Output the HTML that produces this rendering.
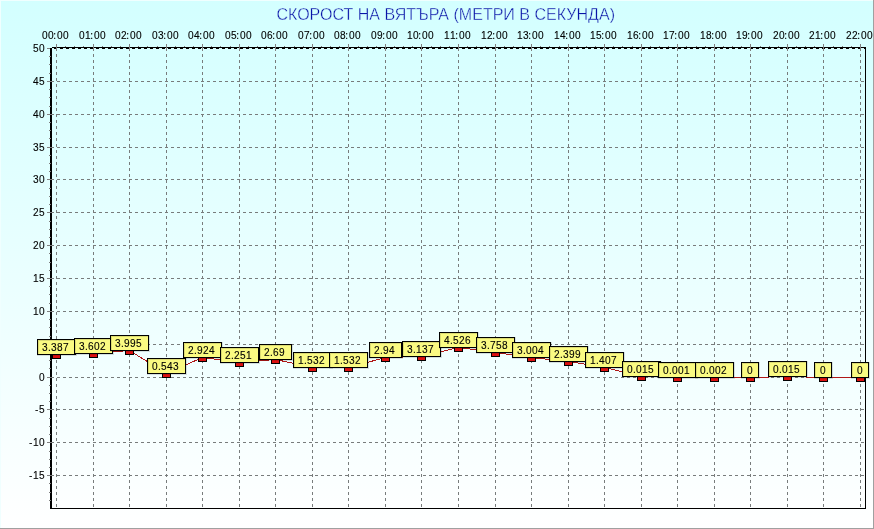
<!DOCTYPE html>
<html><head><meta charset="utf-8"><style>
html,body{margin:0;padding:0;width:874px;height:529px;overflow:hidden;background:#fff}
svg{display:block;will-change:transform}
</style></head><body>
<svg width="874" height="529" viewBox="0 0 874 529" shape-rendering="crispEdges">
<defs><linearGradient id="bg" x1="0" y1="0" x2="0" y2="1"><stop offset="0" stop-color="#d3ffff"/><stop offset="1" stop-color="#ffffff"/></linearGradient></defs>
<rect x="0" y="0" width="874" height="529" fill="url(#bg)"/>
<rect x="0" y="0" width="874" height="1" fill="#f0ffff"/>
<rect x="0" y="0" width="1" height="529" fill="#f0ffff"/>
<rect x="873" y="0" width="1" height="529" fill="#a0a0a0"/>
<rect x="0" y="528" width="874" height="1" fill="#a0a0a0"/>
<text x="276.4" y="20" font-family="Liberation Sans" font-size="16" fill="#0814a8" stroke="#d6ffff" stroke-width="0.35" shape-rendering="auto" textLength="338.6" lengthAdjust="spacingAndGlyphs">СКОРОСТ НА ВЯТЪРА (МЕТРИ В СЕКУНДА)</text>
<path d="M51 81h3v1h-3zM57 81h3v1h-3zM63 81h3v1h-3zM69 81h3v1h-3zM75 81h3v1h-3zM81 81h3v1h-3zM87 81h3v1h-3zM93 81h3v1h-3zM99 81h3v1h-3zM105 81h3v1h-3zM111 81h3v1h-3zM117 81h3v1h-3zM123 81h3v1h-3zM129 81h3v1h-3zM135 81h3v1h-3zM141 81h3v1h-3zM147 81h3v1h-3zM153 81h3v1h-3zM159 81h3v1h-3zM165 81h3v1h-3zM171 81h3v1h-3zM177 81h3v1h-3zM183 81h3v1h-3zM189 81h3v1h-3zM195 81h3v1h-3zM201 81h3v1h-3zM207 81h3v1h-3zM213 81h3v1h-3zM219 81h3v1h-3zM225 81h3v1h-3zM231 81h3v1h-3zM237 81h3v1h-3zM243 81h3v1h-3zM249 81h3v1h-3zM255 81h3v1h-3zM261 81h3v1h-3zM267 81h3v1h-3zM273 81h3v1h-3zM279 81h3v1h-3zM285 81h3v1h-3zM291 81h3v1h-3zM297 81h3v1h-3zM303 81h3v1h-3zM309 81h3v1h-3zM315 81h3v1h-3zM321 81h3v1h-3zM327 81h3v1h-3zM333 81h3v1h-3zM339 81h3v1h-3zM345 81h3v1h-3zM351 81h3v1h-3zM357 81h3v1h-3zM363 81h3v1h-3zM369 81h3v1h-3zM375 81h3v1h-3zM381 81h3v1h-3zM387 81h3v1h-3zM393 81h3v1h-3zM399 81h3v1h-3zM405 81h3v1h-3zM411 81h3v1h-3zM417 81h3v1h-3zM423 81h3v1h-3zM429 81h3v1h-3zM435 81h3v1h-3zM441 81h3v1h-3zM447 81h3v1h-3zM453 81h3v1h-3zM459 81h3v1h-3zM465 81h3v1h-3zM471 81h3v1h-3zM477 81h3v1h-3zM483 81h3v1h-3zM489 81h3v1h-3zM495 81h3v1h-3zM501 81h3v1h-3zM507 81h3v1h-3zM513 81h3v1h-3zM519 81h3v1h-3zM525 81h3v1h-3zM531 81h3v1h-3zM537 81h3v1h-3zM543 81h3v1h-3zM549 81h3v1h-3zM555 81h3v1h-3zM561 81h3v1h-3zM567 81h3v1h-3zM573 81h3v1h-3zM579 81h3v1h-3zM585 81h3v1h-3zM591 81h3v1h-3zM597 81h3v1h-3zM603 81h3v1h-3zM609 81h3v1h-3zM615 81h3v1h-3zM621 81h3v1h-3zM627 81h3v1h-3zM633 81h3v1h-3zM639 81h3v1h-3zM645 81h3v1h-3zM651 81h3v1h-3zM657 81h3v1h-3zM663 81h3v1h-3zM669 81h3v1h-3zM675 81h3v1h-3zM681 81h3v1h-3zM687 81h3v1h-3zM693 81h3v1h-3zM699 81h3v1h-3zM705 81h3v1h-3zM711 81h3v1h-3zM717 81h3v1h-3zM723 81h3v1h-3zM729 81h3v1h-3zM735 81h3v1h-3zM741 81h3v1h-3zM747 81h3v1h-3zM753 81h3v1h-3zM759 81h3v1h-3zM765 81h3v1h-3zM771 81h3v1h-3zM777 81h3v1h-3zM783 81h3v1h-3zM789 81h3v1h-3zM795 81h3v1h-3zM801 81h3v1h-3zM807 81h3v1h-3zM813 81h3v1h-3zM819 81h3v1h-3zM825 81h3v1h-3zM831 81h3v1h-3zM837 81h3v1h-3zM843 81h3v1h-3zM849 81h3v1h-3zM855 81h3v1h-3zM861 81h3v1h-3zM51 114h3v1h-3zM57 114h3v1h-3zM63 114h3v1h-3zM69 114h3v1h-3zM75 114h3v1h-3zM81 114h3v1h-3zM87 114h3v1h-3zM93 114h3v1h-3zM99 114h3v1h-3zM105 114h3v1h-3zM111 114h3v1h-3zM117 114h3v1h-3zM123 114h3v1h-3zM129 114h3v1h-3zM135 114h3v1h-3zM141 114h3v1h-3zM147 114h3v1h-3zM153 114h3v1h-3zM159 114h3v1h-3zM165 114h3v1h-3zM171 114h3v1h-3zM177 114h3v1h-3zM183 114h3v1h-3zM189 114h3v1h-3zM195 114h3v1h-3zM201 114h3v1h-3zM207 114h3v1h-3zM213 114h3v1h-3zM219 114h3v1h-3zM225 114h3v1h-3zM231 114h3v1h-3zM237 114h3v1h-3zM243 114h3v1h-3zM249 114h3v1h-3zM255 114h3v1h-3zM261 114h3v1h-3zM267 114h3v1h-3zM273 114h3v1h-3zM279 114h3v1h-3zM285 114h3v1h-3zM291 114h3v1h-3zM297 114h3v1h-3zM303 114h3v1h-3zM309 114h3v1h-3zM315 114h3v1h-3zM321 114h3v1h-3zM327 114h3v1h-3zM333 114h3v1h-3zM339 114h3v1h-3zM345 114h3v1h-3zM351 114h3v1h-3zM357 114h3v1h-3zM363 114h3v1h-3zM369 114h3v1h-3zM375 114h3v1h-3zM381 114h3v1h-3zM387 114h3v1h-3zM393 114h3v1h-3zM399 114h3v1h-3zM405 114h3v1h-3zM411 114h3v1h-3zM417 114h3v1h-3zM423 114h3v1h-3zM429 114h3v1h-3zM435 114h3v1h-3zM441 114h3v1h-3zM447 114h3v1h-3zM453 114h3v1h-3zM459 114h3v1h-3zM465 114h3v1h-3zM471 114h3v1h-3zM477 114h3v1h-3zM483 114h3v1h-3zM489 114h3v1h-3zM495 114h3v1h-3zM501 114h3v1h-3zM507 114h3v1h-3zM513 114h3v1h-3zM519 114h3v1h-3zM525 114h3v1h-3zM531 114h3v1h-3zM537 114h3v1h-3zM543 114h3v1h-3zM549 114h3v1h-3zM555 114h3v1h-3zM561 114h3v1h-3zM567 114h3v1h-3zM573 114h3v1h-3zM579 114h3v1h-3zM585 114h3v1h-3zM591 114h3v1h-3zM597 114h3v1h-3zM603 114h3v1h-3zM609 114h3v1h-3zM615 114h3v1h-3zM621 114h3v1h-3zM627 114h3v1h-3zM633 114h3v1h-3zM639 114h3v1h-3zM645 114h3v1h-3zM651 114h3v1h-3zM657 114h3v1h-3zM663 114h3v1h-3zM669 114h3v1h-3zM675 114h3v1h-3zM681 114h3v1h-3zM687 114h3v1h-3zM693 114h3v1h-3zM699 114h3v1h-3zM705 114h3v1h-3zM711 114h3v1h-3zM717 114h3v1h-3zM723 114h3v1h-3zM729 114h3v1h-3zM735 114h3v1h-3zM741 114h3v1h-3zM747 114h3v1h-3zM753 114h3v1h-3zM759 114h3v1h-3zM765 114h3v1h-3zM771 114h3v1h-3zM777 114h3v1h-3zM783 114h3v1h-3zM789 114h3v1h-3zM795 114h3v1h-3zM801 114h3v1h-3zM807 114h3v1h-3zM813 114h3v1h-3zM819 114h3v1h-3zM825 114h3v1h-3zM831 114h3v1h-3zM837 114h3v1h-3zM843 114h3v1h-3zM849 114h3v1h-3zM855 114h3v1h-3zM861 114h3v1h-3zM51 147h3v1h-3zM57 147h3v1h-3zM63 147h3v1h-3zM69 147h3v1h-3zM75 147h3v1h-3zM81 147h3v1h-3zM87 147h3v1h-3zM93 147h3v1h-3zM99 147h3v1h-3zM105 147h3v1h-3zM111 147h3v1h-3zM117 147h3v1h-3zM123 147h3v1h-3zM129 147h3v1h-3zM135 147h3v1h-3zM141 147h3v1h-3zM147 147h3v1h-3zM153 147h3v1h-3zM159 147h3v1h-3zM165 147h3v1h-3zM171 147h3v1h-3zM177 147h3v1h-3zM183 147h3v1h-3zM189 147h3v1h-3zM195 147h3v1h-3zM201 147h3v1h-3zM207 147h3v1h-3zM213 147h3v1h-3zM219 147h3v1h-3zM225 147h3v1h-3zM231 147h3v1h-3zM237 147h3v1h-3zM243 147h3v1h-3zM249 147h3v1h-3zM255 147h3v1h-3zM261 147h3v1h-3zM267 147h3v1h-3zM273 147h3v1h-3zM279 147h3v1h-3zM285 147h3v1h-3zM291 147h3v1h-3zM297 147h3v1h-3zM303 147h3v1h-3zM309 147h3v1h-3zM315 147h3v1h-3zM321 147h3v1h-3zM327 147h3v1h-3zM333 147h3v1h-3zM339 147h3v1h-3zM345 147h3v1h-3zM351 147h3v1h-3zM357 147h3v1h-3zM363 147h3v1h-3zM369 147h3v1h-3zM375 147h3v1h-3zM381 147h3v1h-3zM387 147h3v1h-3zM393 147h3v1h-3zM399 147h3v1h-3zM405 147h3v1h-3zM411 147h3v1h-3zM417 147h3v1h-3zM423 147h3v1h-3zM429 147h3v1h-3zM435 147h3v1h-3zM441 147h3v1h-3zM447 147h3v1h-3zM453 147h3v1h-3zM459 147h3v1h-3zM465 147h3v1h-3zM471 147h3v1h-3zM477 147h3v1h-3zM483 147h3v1h-3zM489 147h3v1h-3zM495 147h3v1h-3zM501 147h3v1h-3zM507 147h3v1h-3zM513 147h3v1h-3zM519 147h3v1h-3zM525 147h3v1h-3zM531 147h3v1h-3zM537 147h3v1h-3zM543 147h3v1h-3zM549 147h3v1h-3zM555 147h3v1h-3zM561 147h3v1h-3zM567 147h3v1h-3zM573 147h3v1h-3zM579 147h3v1h-3zM585 147h3v1h-3zM591 147h3v1h-3zM597 147h3v1h-3zM603 147h3v1h-3zM609 147h3v1h-3zM615 147h3v1h-3zM621 147h3v1h-3zM627 147h3v1h-3zM633 147h3v1h-3zM639 147h3v1h-3zM645 147h3v1h-3zM651 147h3v1h-3zM657 147h3v1h-3zM663 147h3v1h-3zM669 147h3v1h-3zM675 147h3v1h-3zM681 147h3v1h-3zM687 147h3v1h-3zM693 147h3v1h-3zM699 147h3v1h-3zM705 147h3v1h-3zM711 147h3v1h-3zM717 147h3v1h-3zM723 147h3v1h-3zM729 147h3v1h-3zM735 147h3v1h-3zM741 147h3v1h-3zM747 147h3v1h-3zM753 147h3v1h-3zM759 147h3v1h-3zM765 147h3v1h-3zM771 147h3v1h-3zM777 147h3v1h-3zM783 147h3v1h-3zM789 147h3v1h-3zM795 147h3v1h-3zM801 147h3v1h-3zM807 147h3v1h-3zM813 147h3v1h-3zM819 147h3v1h-3zM825 147h3v1h-3zM831 147h3v1h-3zM837 147h3v1h-3zM843 147h3v1h-3zM849 147h3v1h-3zM855 147h3v1h-3zM861 147h3v1h-3zM51 179h3v1h-3zM57 179h3v1h-3zM63 179h3v1h-3zM69 179h3v1h-3zM75 179h3v1h-3zM81 179h3v1h-3zM87 179h3v1h-3zM93 179h3v1h-3zM99 179h3v1h-3zM105 179h3v1h-3zM111 179h3v1h-3zM117 179h3v1h-3zM123 179h3v1h-3zM129 179h3v1h-3zM135 179h3v1h-3zM141 179h3v1h-3zM147 179h3v1h-3zM153 179h3v1h-3zM159 179h3v1h-3zM165 179h3v1h-3zM171 179h3v1h-3zM177 179h3v1h-3zM183 179h3v1h-3zM189 179h3v1h-3zM195 179h3v1h-3zM201 179h3v1h-3zM207 179h3v1h-3zM213 179h3v1h-3zM219 179h3v1h-3zM225 179h3v1h-3zM231 179h3v1h-3zM237 179h3v1h-3zM243 179h3v1h-3zM249 179h3v1h-3zM255 179h3v1h-3zM261 179h3v1h-3zM267 179h3v1h-3zM273 179h3v1h-3zM279 179h3v1h-3zM285 179h3v1h-3zM291 179h3v1h-3zM297 179h3v1h-3zM303 179h3v1h-3zM309 179h3v1h-3zM315 179h3v1h-3zM321 179h3v1h-3zM327 179h3v1h-3zM333 179h3v1h-3zM339 179h3v1h-3zM345 179h3v1h-3zM351 179h3v1h-3zM357 179h3v1h-3zM363 179h3v1h-3zM369 179h3v1h-3zM375 179h3v1h-3zM381 179h3v1h-3zM387 179h3v1h-3zM393 179h3v1h-3zM399 179h3v1h-3zM405 179h3v1h-3zM411 179h3v1h-3zM417 179h3v1h-3zM423 179h3v1h-3zM429 179h3v1h-3zM435 179h3v1h-3zM441 179h3v1h-3zM447 179h3v1h-3zM453 179h3v1h-3zM459 179h3v1h-3zM465 179h3v1h-3zM471 179h3v1h-3zM477 179h3v1h-3zM483 179h3v1h-3zM489 179h3v1h-3zM495 179h3v1h-3zM501 179h3v1h-3zM507 179h3v1h-3zM513 179h3v1h-3zM519 179h3v1h-3zM525 179h3v1h-3zM531 179h3v1h-3zM537 179h3v1h-3zM543 179h3v1h-3zM549 179h3v1h-3zM555 179h3v1h-3zM561 179h3v1h-3zM567 179h3v1h-3zM573 179h3v1h-3zM579 179h3v1h-3zM585 179h3v1h-3zM591 179h3v1h-3zM597 179h3v1h-3zM603 179h3v1h-3zM609 179h3v1h-3zM615 179h3v1h-3zM621 179h3v1h-3zM627 179h3v1h-3zM633 179h3v1h-3zM639 179h3v1h-3zM645 179h3v1h-3zM651 179h3v1h-3zM657 179h3v1h-3zM663 179h3v1h-3zM669 179h3v1h-3zM675 179h3v1h-3zM681 179h3v1h-3zM687 179h3v1h-3zM693 179h3v1h-3zM699 179h3v1h-3zM705 179h3v1h-3zM711 179h3v1h-3zM717 179h3v1h-3zM723 179h3v1h-3zM729 179h3v1h-3zM735 179h3v1h-3zM741 179h3v1h-3zM747 179h3v1h-3zM753 179h3v1h-3zM759 179h3v1h-3zM765 179h3v1h-3zM771 179h3v1h-3zM777 179h3v1h-3zM783 179h3v1h-3zM789 179h3v1h-3zM795 179h3v1h-3zM801 179h3v1h-3zM807 179h3v1h-3zM813 179h3v1h-3zM819 179h3v1h-3zM825 179h3v1h-3zM831 179h3v1h-3zM837 179h3v1h-3zM843 179h3v1h-3zM849 179h3v1h-3zM855 179h3v1h-3zM861 179h3v1h-3zM51 212h3v1h-3zM57 212h3v1h-3zM63 212h3v1h-3zM69 212h3v1h-3zM75 212h3v1h-3zM81 212h3v1h-3zM87 212h3v1h-3zM93 212h3v1h-3zM99 212h3v1h-3zM105 212h3v1h-3zM111 212h3v1h-3zM117 212h3v1h-3zM123 212h3v1h-3zM129 212h3v1h-3zM135 212h3v1h-3zM141 212h3v1h-3zM147 212h3v1h-3zM153 212h3v1h-3zM159 212h3v1h-3zM165 212h3v1h-3zM171 212h3v1h-3zM177 212h3v1h-3zM183 212h3v1h-3zM189 212h3v1h-3zM195 212h3v1h-3zM201 212h3v1h-3zM207 212h3v1h-3zM213 212h3v1h-3zM219 212h3v1h-3zM225 212h3v1h-3zM231 212h3v1h-3zM237 212h3v1h-3zM243 212h3v1h-3zM249 212h3v1h-3zM255 212h3v1h-3zM261 212h3v1h-3zM267 212h3v1h-3zM273 212h3v1h-3zM279 212h3v1h-3zM285 212h3v1h-3zM291 212h3v1h-3zM297 212h3v1h-3zM303 212h3v1h-3zM309 212h3v1h-3zM315 212h3v1h-3zM321 212h3v1h-3zM327 212h3v1h-3zM333 212h3v1h-3zM339 212h3v1h-3zM345 212h3v1h-3zM351 212h3v1h-3zM357 212h3v1h-3zM363 212h3v1h-3zM369 212h3v1h-3zM375 212h3v1h-3zM381 212h3v1h-3zM387 212h3v1h-3zM393 212h3v1h-3zM399 212h3v1h-3zM405 212h3v1h-3zM411 212h3v1h-3zM417 212h3v1h-3zM423 212h3v1h-3zM429 212h3v1h-3zM435 212h3v1h-3zM441 212h3v1h-3zM447 212h3v1h-3zM453 212h3v1h-3zM459 212h3v1h-3zM465 212h3v1h-3zM471 212h3v1h-3zM477 212h3v1h-3zM483 212h3v1h-3zM489 212h3v1h-3zM495 212h3v1h-3zM501 212h3v1h-3zM507 212h3v1h-3zM513 212h3v1h-3zM519 212h3v1h-3zM525 212h3v1h-3zM531 212h3v1h-3zM537 212h3v1h-3zM543 212h3v1h-3zM549 212h3v1h-3zM555 212h3v1h-3zM561 212h3v1h-3zM567 212h3v1h-3zM573 212h3v1h-3zM579 212h3v1h-3zM585 212h3v1h-3zM591 212h3v1h-3zM597 212h3v1h-3zM603 212h3v1h-3zM609 212h3v1h-3zM615 212h3v1h-3zM621 212h3v1h-3zM627 212h3v1h-3zM633 212h3v1h-3zM639 212h3v1h-3zM645 212h3v1h-3zM651 212h3v1h-3zM657 212h3v1h-3zM663 212h3v1h-3zM669 212h3v1h-3zM675 212h3v1h-3zM681 212h3v1h-3zM687 212h3v1h-3zM693 212h3v1h-3zM699 212h3v1h-3zM705 212h3v1h-3zM711 212h3v1h-3zM717 212h3v1h-3zM723 212h3v1h-3zM729 212h3v1h-3zM735 212h3v1h-3zM741 212h3v1h-3zM747 212h3v1h-3zM753 212h3v1h-3zM759 212h3v1h-3zM765 212h3v1h-3zM771 212h3v1h-3zM777 212h3v1h-3zM783 212h3v1h-3zM789 212h3v1h-3zM795 212h3v1h-3zM801 212h3v1h-3zM807 212h3v1h-3zM813 212h3v1h-3zM819 212h3v1h-3zM825 212h3v1h-3zM831 212h3v1h-3zM837 212h3v1h-3zM843 212h3v1h-3zM849 212h3v1h-3zM855 212h3v1h-3zM861 212h3v1h-3zM51 245h3v1h-3zM57 245h3v1h-3zM63 245h3v1h-3zM69 245h3v1h-3zM75 245h3v1h-3zM81 245h3v1h-3zM87 245h3v1h-3zM93 245h3v1h-3zM99 245h3v1h-3zM105 245h3v1h-3zM111 245h3v1h-3zM117 245h3v1h-3zM123 245h3v1h-3zM129 245h3v1h-3zM135 245h3v1h-3zM141 245h3v1h-3zM147 245h3v1h-3zM153 245h3v1h-3zM159 245h3v1h-3zM165 245h3v1h-3zM171 245h3v1h-3zM177 245h3v1h-3zM183 245h3v1h-3zM189 245h3v1h-3zM195 245h3v1h-3zM201 245h3v1h-3zM207 245h3v1h-3zM213 245h3v1h-3zM219 245h3v1h-3zM225 245h3v1h-3zM231 245h3v1h-3zM237 245h3v1h-3zM243 245h3v1h-3zM249 245h3v1h-3zM255 245h3v1h-3zM261 245h3v1h-3zM267 245h3v1h-3zM273 245h3v1h-3zM279 245h3v1h-3zM285 245h3v1h-3zM291 245h3v1h-3zM297 245h3v1h-3zM303 245h3v1h-3zM309 245h3v1h-3zM315 245h3v1h-3zM321 245h3v1h-3zM327 245h3v1h-3zM333 245h3v1h-3zM339 245h3v1h-3zM345 245h3v1h-3zM351 245h3v1h-3zM357 245h3v1h-3zM363 245h3v1h-3zM369 245h3v1h-3zM375 245h3v1h-3zM381 245h3v1h-3zM387 245h3v1h-3zM393 245h3v1h-3zM399 245h3v1h-3zM405 245h3v1h-3zM411 245h3v1h-3zM417 245h3v1h-3zM423 245h3v1h-3zM429 245h3v1h-3zM435 245h3v1h-3zM441 245h3v1h-3zM447 245h3v1h-3zM453 245h3v1h-3zM459 245h3v1h-3zM465 245h3v1h-3zM471 245h3v1h-3zM477 245h3v1h-3zM483 245h3v1h-3zM489 245h3v1h-3zM495 245h3v1h-3zM501 245h3v1h-3zM507 245h3v1h-3zM513 245h3v1h-3zM519 245h3v1h-3zM525 245h3v1h-3zM531 245h3v1h-3zM537 245h3v1h-3zM543 245h3v1h-3zM549 245h3v1h-3zM555 245h3v1h-3zM561 245h3v1h-3zM567 245h3v1h-3zM573 245h3v1h-3zM579 245h3v1h-3zM585 245h3v1h-3zM591 245h3v1h-3zM597 245h3v1h-3zM603 245h3v1h-3zM609 245h3v1h-3zM615 245h3v1h-3zM621 245h3v1h-3zM627 245h3v1h-3zM633 245h3v1h-3zM639 245h3v1h-3zM645 245h3v1h-3zM651 245h3v1h-3zM657 245h3v1h-3zM663 245h3v1h-3zM669 245h3v1h-3zM675 245h3v1h-3zM681 245h3v1h-3zM687 245h3v1h-3zM693 245h3v1h-3zM699 245h3v1h-3zM705 245h3v1h-3zM711 245h3v1h-3zM717 245h3v1h-3zM723 245h3v1h-3zM729 245h3v1h-3zM735 245h3v1h-3zM741 245h3v1h-3zM747 245h3v1h-3zM753 245h3v1h-3zM759 245h3v1h-3zM765 245h3v1h-3zM771 245h3v1h-3zM777 245h3v1h-3zM783 245h3v1h-3zM789 245h3v1h-3zM795 245h3v1h-3zM801 245h3v1h-3zM807 245h3v1h-3zM813 245h3v1h-3zM819 245h3v1h-3zM825 245h3v1h-3zM831 245h3v1h-3zM837 245h3v1h-3zM843 245h3v1h-3zM849 245h3v1h-3zM855 245h3v1h-3zM861 245h3v1h-3zM51 278h3v1h-3zM57 278h3v1h-3zM63 278h3v1h-3zM69 278h3v1h-3zM75 278h3v1h-3zM81 278h3v1h-3zM87 278h3v1h-3zM93 278h3v1h-3zM99 278h3v1h-3zM105 278h3v1h-3zM111 278h3v1h-3zM117 278h3v1h-3zM123 278h3v1h-3zM129 278h3v1h-3zM135 278h3v1h-3zM141 278h3v1h-3zM147 278h3v1h-3zM153 278h3v1h-3zM159 278h3v1h-3zM165 278h3v1h-3zM171 278h3v1h-3zM177 278h3v1h-3zM183 278h3v1h-3zM189 278h3v1h-3zM195 278h3v1h-3zM201 278h3v1h-3zM207 278h3v1h-3zM213 278h3v1h-3zM219 278h3v1h-3zM225 278h3v1h-3zM231 278h3v1h-3zM237 278h3v1h-3zM243 278h3v1h-3zM249 278h3v1h-3zM255 278h3v1h-3zM261 278h3v1h-3zM267 278h3v1h-3zM273 278h3v1h-3zM279 278h3v1h-3zM285 278h3v1h-3zM291 278h3v1h-3zM297 278h3v1h-3zM303 278h3v1h-3zM309 278h3v1h-3zM315 278h3v1h-3zM321 278h3v1h-3zM327 278h3v1h-3zM333 278h3v1h-3zM339 278h3v1h-3zM345 278h3v1h-3zM351 278h3v1h-3zM357 278h3v1h-3zM363 278h3v1h-3zM369 278h3v1h-3zM375 278h3v1h-3zM381 278h3v1h-3zM387 278h3v1h-3zM393 278h3v1h-3zM399 278h3v1h-3zM405 278h3v1h-3zM411 278h3v1h-3zM417 278h3v1h-3zM423 278h3v1h-3zM429 278h3v1h-3zM435 278h3v1h-3zM441 278h3v1h-3zM447 278h3v1h-3zM453 278h3v1h-3zM459 278h3v1h-3zM465 278h3v1h-3zM471 278h3v1h-3zM477 278h3v1h-3zM483 278h3v1h-3zM489 278h3v1h-3zM495 278h3v1h-3zM501 278h3v1h-3zM507 278h3v1h-3zM513 278h3v1h-3zM519 278h3v1h-3zM525 278h3v1h-3zM531 278h3v1h-3zM537 278h3v1h-3zM543 278h3v1h-3zM549 278h3v1h-3zM555 278h3v1h-3zM561 278h3v1h-3zM567 278h3v1h-3zM573 278h3v1h-3zM579 278h3v1h-3zM585 278h3v1h-3zM591 278h3v1h-3zM597 278h3v1h-3zM603 278h3v1h-3zM609 278h3v1h-3zM615 278h3v1h-3zM621 278h3v1h-3zM627 278h3v1h-3zM633 278h3v1h-3zM639 278h3v1h-3zM645 278h3v1h-3zM651 278h3v1h-3zM657 278h3v1h-3zM663 278h3v1h-3zM669 278h3v1h-3zM675 278h3v1h-3zM681 278h3v1h-3zM687 278h3v1h-3zM693 278h3v1h-3zM699 278h3v1h-3zM705 278h3v1h-3zM711 278h3v1h-3zM717 278h3v1h-3zM723 278h3v1h-3zM729 278h3v1h-3zM735 278h3v1h-3zM741 278h3v1h-3zM747 278h3v1h-3zM753 278h3v1h-3zM759 278h3v1h-3zM765 278h3v1h-3zM771 278h3v1h-3zM777 278h3v1h-3zM783 278h3v1h-3zM789 278h3v1h-3zM795 278h3v1h-3zM801 278h3v1h-3zM807 278h3v1h-3zM813 278h3v1h-3zM819 278h3v1h-3zM825 278h3v1h-3zM831 278h3v1h-3zM837 278h3v1h-3zM843 278h3v1h-3zM849 278h3v1h-3zM855 278h3v1h-3zM861 278h3v1h-3zM51 311h3v1h-3zM57 311h3v1h-3zM63 311h3v1h-3zM69 311h3v1h-3zM75 311h3v1h-3zM81 311h3v1h-3zM87 311h3v1h-3zM93 311h3v1h-3zM99 311h3v1h-3zM105 311h3v1h-3zM111 311h3v1h-3zM117 311h3v1h-3zM123 311h3v1h-3zM129 311h3v1h-3zM135 311h3v1h-3zM141 311h3v1h-3zM147 311h3v1h-3zM153 311h3v1h-3zM159 311h3v1h-3zM165 311h3v1h-3zM171 311h3v1h-3zM177 311h3v1h-3zM183 311h3v1h-3zM189 311h3v1h-3zM195 311h3v1h-3zM201 311h3v1h-3zM207 311h3v1h-3zM213 311h3v1h-3zM219 311h3v1h-3zM225 311h3v1h-3zM231 311h3v1h-3zM237 311h3v1h-3zM243 311h3v1h-3zM249 311h3v1h-3zM255 311h3v1h-3zM261 311h3v1h-3zM267 311h3v1h-3zM273 311h3v1h-3zM279 311h3v1h-3zM285 311h3v1h-3zM291 311h3v1h-3zM297 311h3v1h-3zM303 311h3v1h-3zM309 311h3v1h-3zM315 311h3v1h-3zM321 311h3v1h-3zM327 311h3v1h-3zM333 311h3v1h-3zM339 311h3v1h-3zM345 311h3v1h-3zM351 311h3v1h-3zM357 311h3v1h-3zM363 311h3v1h-3zM369 311h3v1h-3zM375 311h3v1h-3zM381 311h3v1h-3zM387 311h3v1h-3zM393 311h3v1h-3zM399 311h3v1h-3zM405 311h3v1h-3zM411 311h3v1h-3zM417 311h3v1h-3zM423 311h3v1h-3zM429 311h3v1h-3zM435 311h3v1h-3zM441 311h3v1h-3zM447 311h3v1h-3zM453 311h3v1h-3zM459 311h3v1h-3zM465 311h3v1h-3zM471 311h3v1h-3zM477 311h3v1h-3zM483 311h3v1h-3zM489 311h3v1h-3zM495 311h3v1h-3zM501 311h3v1h-3zM507 311h3v1h-3zM513 311h3v1h-3zM519 311h3v1h-3zM525 311h3v1h-3zM531 311h3v1h-3zM537 311h3v1h-3zM543 311h3v1h-3zM549 311h3v1h-3zM555 311h3v1h-3zM561 311h3v1h-3zM567 311h3v1h-3zM573 311h3v1h-3zM579 311h3v1h-3zM585 311h3v1h-3zM591 311h3v1h-3zM597 311h3v1h-3zM603 311h3v1h-3zM609 311h3v1h-3zM615 311h3v1h-3zM621 311h3v1h-3zM627 311h3v1h-3zM633 311h3v1h-3zM639 311h3v1h-3zM645 311h3v1h-3zM651 311h3v1h-3zM657 311h3v1h-3zM663 311h3v1h-3zM669 311h3v1h-3zM675 311h3v1h-3zM681 311h3v1h-3zM687 311h3v1h-3zM693 311h3v1h-3zM699 311h3v1h-3zM705 311h3v1h-3zM711 311h3v1h-3zM717 311h3v1h-3zM723 311h3v1h-3zM729 311h3v1h-3zM735 311h3v1h-3zM741 311h3v1h-3zM747 311h3v1h-3zM753 311h3v1h-3zM759 311h3v1h-3zM765 311h3v1h-3zM771 311h3v1h-3zM777 311h3v1h-3zM783 311h3v1h-3zM789 311h3v1h-3zM795 311h3v1h-3zM801 311h3v1h-3zM807 311h3v1h-3zM813 311h3v1h-3zM819 311h3v1h-3zM825 311h3v1h-3zM831 311h3v1h-3zM837 311h3v1h-3zM843 311h3v1h-3zM849 311h3v1h-3zM855 311h3v1h-3zM861 311h3v1h-3zM51 344h3v1h-3zM57 344h3v1h-3zM63 344h3v1h-3zM69 344h3v1h-3zM75 344h3v1h-3zM81 344h3v1h-3zM87 344h3v1h-3zM93 344h3v1h-3zM99 344h3v1h-3zM105 344h3v1h-3zM111 344h3v1h-3zM117 344h3v1h-3zM123 344h3v1h-3zM129 344h3v1h-3zM135 344h3v1h-3zM141 344h3v1h-3zM147 344h3v1h-3zM153 344h3v1h-3zM159 344h3v1h-3zM165 344h3v1h-3zM171 344h3v1h-3zM177 344h3v1h-3zM183 344h3v1h-3zM189 344h3v1h-3zM195 344h3v1h-3zM201 344h3v1h-3zM207 344h3v1h-3zM213 344h3v1h-3zM219 344h3v1h-3zM225 344h3v1h-3zM231 344h3v1h-3zM237 344h3v1h-3zM243 344h3v1h-3zM249 344h3v1h-3zM255 344h3v1h-3zM261 344h3v1h-3zM267 344h3v1h-3zM273 344h3v1h-3zM279 344h3v1h-3zM285 344h3v1h-3zM291 344h3v1h-3zM297 344h3v1h-3zM303 344h3v1h-3zM309 344h3v1h-3zM315 344h3v1h-3zM321 344h3v1h-3zM327 344h3v1h-3zM333 344h3v1h-3zM339 344h3v1h-3zM345 344h3v1h-3zM351 344h3v1h-3zM357 344h3v1h-3zM363 344h3v1h-3zM369 344h3v1h-3zM375 344h3v1h-3zM381 344h3v1h-3zM387 344h3v1h-3zM393 344h3v1h-3zM399 344h3v1h-3zM405 344h3v1h-3zM411 344h3v1h-3zM417 344h3v1h-3zM423 344h3v1h-3zM429 344h3v1h-3zM435 344h3v1h-3zM441 344h3v1h-3zM447 344h3v1h-3zM453 344h3v1h-3zM459 344h3v1h-3zM465 344h3v1h-3zM471 344h3v1h-3zM477 344h3v1h-3zM483 344h3v1h-3zM489 344h3v1h-3zM495 344h3v1h-3zM501 344h3v1h-3zM507 344h3v1h-3zM513 344h3v1h-3zM519 344h3v1h-3zM525 344h3v1h-3zM531 344h3v1h-3zM537 344h3v1h-3zM543 344h3v1h-3zM549 344h3v1h-3zM555 344h3v1h-3zM561 344h3v1h-3zM567 344h3v1h-3zM573 344h3v1h-3zM579 344h3v1h-3zM585 344h3v1h-3zM591 344h3v1h-3zM597 344h3v1h-3zM603 344h3v1h-3zM609 344h3v1h-3zM615 344h3v1h-3zM621 344h3v1h-3zM627 344h3v1h-3zM633 344h3v1h-3zM639 344h3v1h-3zM645 344h3v1h-3zM651 344h3v1h-3zM657 344h3v1h-3zM663 344h3v1h-3zM669 344h3v1h-3zM675 344h3v1h-3zM681 344h3v1h-3zM687 344h3v1h-3zM693 344h3v1h-3zM699 344h3v1h-3zM705 344h3v1h-3zM711 344h3v1h-3zM717 344h3v1h-3zM723 344h3v1h-3zM729 344h3v1h-3zM735 344h3v1h-3zM741 344h3v1h-3zM747 344h3v1h-3zM753 344h3v1h-3zM759 344h3v1h-3zM765 344h3v1h-3zM771 344h3v1h-3zM777 344h3v1h-3zM783 344h3v1h-3zM789 344h3v1h-3zM795 344h3v1h-3zM801 344h3v1h-3zM807 344h3v1h-3zM813 344h3v1h-3zM819 344h3v1h-3zM825 344h3v1h-3zM831 344h3v1h-3zM837 344h3v1h-3zM843 344h3v1h-3zM849 344h3v1h-3zM855 344h3v1h-3zM861 344h3v1h-3zM51 377h3v1h-3zM57 377h3v1h-3zM63 377h3v1h-3zM69 377h3v1h-3zM75 377h3v1h-3zM81 377h3v1h-3zM87 377h3v1h-3zM93 377h3v1h-3zM99 377h3v1h-3zM105 377h3v1h-3zM111 377h3v1h-3zM117 377h3v1h-3zM123 377h3v1h-3zM129 377h3v1h-3zM135 377h3v1h-3zM141 377h3v1h-3zM147 377h3v1h-3zM153 377h3v1h-3zM159 377h3v1h-3zM165 377h3v1h-3zM171 377h3v1h-3zM177 377h3v1h-3zM183 377h3v1h-3zM189 377h3v1h-3zM195 377h3v1h-3zM201 377h3v1h-3zM207 377h3v1h-3zM213 377h3v1h-3zM219 377h3v1h-3zM225 377h3v1h-3zM231 377h3v1h-3zM237 377h3v1h-3zM243 377h3v1h-3zM249 377h3v1h-3zM255 377h3v1h-3zM261 377h3v1h-3zM267 377h3v1h-3zM273 377h3v1h-3zM279 377h3v1h-3zM285 377h3v1h-3zM291 377h3v1h-3zM297 377h3v1h-3zM303 377h3v1h-3zM309 377h3v1h-3zM315 377h3v1h-3zM321 377h3v1h-3zM327 377h3v1h-3zM333 377h3v1h-3zM339 377h3v1h-3zM345 377h3v1h-3zM351 377h3v1h-3zM357 377h3v1h-3zM363 377h3v1h-3zM369 377h3v1h-3zM375 377h3v1h-3zM381 377h3v1h-3zM387 377h3v1h-3zM393 377h3v1h-3zM399 377h3v1h-3zM405 377h3v1h-3zM411 377h3v1h-3zM417 377h3v1h-3zM423 377h3v1h-3zM429 377h3v1h-3zM435 377h3v1h-3zM441 377h3v1h-3zM447 377h3v1h-3zM453 377h3v1h-3zM459 377h3v1h-3zM465 377h3v1h-3zM471 377h3v1h-3zM477 377h3v1h-3zM483 377h3v1h-3zM489 377h3v1h-3zM495 377h3v1h-3zM501 377h3v1h-3zM507 377h3v1h-3zM513 377h3v1h-3zM519 377h3v1h-3zM525 377h3v1h-3zM531 377h3v1h-3zM537 377h3v1h-3zM543 377h3v1h-3zM549 377h3v1h-3zM555 377h3v1h-3zM561 377h3v1h-3zM567 377h3v1h-3zM573 377h3v1h-3zM579 377h3v1h-3zM585 377h3v1h-3zM591 377h3v1h-3zM597 377h3v1h-3zM603 377h3v1h-3zM609 377h3v1h-3zM615 377h3v1h-3zM621 377h3v1h-3zM627 377h3v1h-3zM633 377h3v1h-3zM639 377h3v1h-3zM645 377h3v1h-3zM651 377h3v1h-3zM657 377h3v1h-3zM663 377h3v1h-3zM669 377h3v1h-3zM675 377h3v1h-3zM681 377h3v1h-3zM687 377h3v1h-3zM693 377h3v1h-3zM699 377h3v1h-3zM705 377h3v1h-3zM711 377h3v1h-3zM717 377h3v1h-3zM723 377h3v1h-3zM729 377h3v1h-3zM735 377h3v1h-3zM741 377h3v1h-3zM747 377h3v1h-3zM753 377h3v1h-3zM759 377h3v1h-3zM765 377h3v1h-3zM771 377h3v1h-3zM777 377h3v1h-3zM783 377h3v1h-3zM789 377h3v1h-3zM795 377h3v1h-3zM801 377h3v1h-3zM807 377h3v1h-3zM813 377h3v1h-3zM819 377h3v1h-3zM825 377h3v1h-3zM831 377h3v1h-3zM837 377h3v1h-3zM843 377h3v1h-3zM849 377h3v1h-3zM855 377h3v1h-3zM861 377h3v1h-3zM51 409h3v1h-3zM57 409h3v1h-3zM63 409h3v1h-3zM69 409h3v1h-3zM75 409h3v1h-3zM81 409h3v1h-3zM87 409h3v1h-3zM93 409h3v1h-3zM99 409h3v1h-3zM105 409h3v1h-3zM111 409h3v1h-3zM117 409h3v1h-3zM123 409h3v1h-3zM129 409h3v1h-3zM135 409h3v1h-3zM141 409h3v1h-3zM147 409h3v1h-3zM153 409h3v1h-3zM159 409h3v1h-3zM165 409h3v1h-3zM171 409h3v1h-3zM177 409h3v1h-3zM183 409h3v1h-3zM189 409h3v1h-3zM195 409h3v1h-3zM201 409h3v1h-3zM207 409h3v1h-3zM213 409h3v1h-3zM219 409h3v1h-3zM225 409h3v1h-3zM231 409h3v1h-3zM237 409h3v1h-3zM243 409h3v1h-3zM249 409h3v1h-3zM255 409h3v1h-3zM261 409h3v1h-3zM267 409h3v1h-3zM273 409h3v1h-3zM279 409h3v1h-3zM285 409h3v1h-3zM291 409h3v1h-3zM297 409h3v1h-3zM303 409h3v1h-3zM309 409h3v1h-3zM315 409h3v1h-3zM321 409h3v1h-3zM327 409h3v1h-3zM333 409h3v1h-3zM339 409h3v1h-3zM345 409h3v1h-3zM351 409h3v1h-3zM357 409h3v1h-3zM363 409h3v1h-3zM369 409h3v1h-3zM375 409h3v1h-3zM381 409h3v1h-3zM387 409h3v1h-3zM393 409h3v1h-3zM399 409h3v1h-3zM405 409h3v1h-3zM411 409h3v1h-3zM417 409h3v1h-3zM423 409h3v1h-3zM429 409h3v1h-3zM435 409h3v1h-3zM441 409h3v1h-3zM447 409h3v1h-3zM453 409h3v1h-3zM459 409h3v1h-3zM465 409h3v1h-3zM471 409h3v1h-3zM477 409h3v1h-3zM483 409h3v1h-3zM489 409h3v1h-3zM495 409h3v1h-3zM501 409h3v1h-3zM507 409h3v1h-3zM513 409h3v1h-3zM519 409h3v1h-3zM525 409h3v1h-3zM531 409h3v1h-3zM537 409h3v1h-3zM543 409h3v1h-3zM549 409h3v1h-3zM555 409h3v1h-3zM561 409h3v1h-3zM567 409h3v1h-3zM573 409h3v1h-3zM579 409h3v1h-3zM585 409h3v1h-3zM591 409h3v1h-3zM597 409h3v1h-3zM603 409h3v1h-3zM609 409h3v1h-3zM615 409h3v1h-3zM621 409h3v1h-3zM627 409h3v1h-3zM633 409h3v1h-3zM639 409h3v1h-3zM645 409h3v1h-3zM651 409h3v1h-3zM657 409h3v1h-3zM663 409h3v1h-3zM669 409h3v1h-3zM675 409h3v1h-3zM681 409h3v1h-3zM687 409h3v1h-3zM693 409h3v1h-3zM699 409h3v1h-3zM705 409h3v1h-3zM711 409h3v1h-3zM717 409h3v1h-3zM723 409h3v1h-3zM729 409h3v1h-3zM735 409h3v1h-3zM741 409h3v1h-3zM747 409h3v1h-3zM753 409h3v1h-3zM759 409h3v1h-3zM765 409h3v1h-3zM771 409h3v1h-3zM777 409h3v1h-3zM783 409h3v1h-3zM789 409h3v1h-3zM795 409h3v1h-3zM801 409h3v1h-3zM807 409h3v1h-3zM813 409h3v1h-3zM819 409h3v1h-3zM825 409h3v1h-3zM831 409h3v1h-3zM837 409h3v1h-3zM843 409h3v1h-3zM849 409h3v1h-3zM855 409h3v1h-3zM861 409h3v1h-3zM51 442h3v1h-3zM57 442h3v1h-3zM63 442h3v1h-3zM69 442h3v1h-3zM75 442h3v1h-3zM81 442h3v1h-3zM87 442h3v1h-3zM93 442h3v1h-3zM99 442h3v1h-3zM105 442h3v1h-3zM111 442h3v1h-3zM117 442h3v1h-3zM123 442h3v1h-3zM129 442h3v1h-3zM135 442h3v1h-3zM141 442h3v1h-3zM147 442h3v1h-3zM153 442h3v1h-3zM159 442h3v1h-3zM165 442h3v1h-3zM171 442h3v1h-3zM177 442h3v1h-3zM183 442h3v1h-3zM189 442h3v1h-3zM195 442h3v1h-3zM201 442h3v1h-3zM207 442h3v1h-3zM213 442h3v1h-3zM219 442h3v1h-3zM225 442h3v1h-3zM231 442h3v1h-3zM237 442h3v1h-3zM243 442h3v1h-3zM249 442h3v1h-3zM255 442h3v1h-3zM261 442h3v1h-3zM267 442h3v1h-3zM273 442h3v1h-3zM279 442h3v1h-3zM285 442h3v1h-3zM291 442h3v1h-3zM297 442h3v1h-3zM303 442h3v1h-3zM309 442h3v1h-3zM315 442h3v1h-3zM321 442h3v1h-3zM327 442h3v1h-3zM333 442h3v1h-3zM339 442h3v1h-3zM345 442h3v1h-3zM351 442h3v1h-3zM357 442h3v1h-3zM363 442h3v1h-3zM369 442h3v1h-3zM375 442h3v1h-3zM381 442h3v1h-3zM387 442h3v1h-3zM393 442h3v1h-3zM399 442h3v1h-3zM405 442h3v1h-3zM411 442h3v1h-3zM417 442h3v1h-3zM423 442h3v1h-3zM429 442h3v1h-3zM435 442h3v1h-3zM441 442h3v1h-3zM447 442h3v1h-3zM453 442h3v1h-3zM459 442h3v1h-3zM465 442h3v1h-3zM471 442h3v1h-3zM477 442h3v1h-3zM483 442h3v1h-3zM489 442h3v1h-3zM495 442h3v1h-3zM501 442h3v1h-3zM507 442h3v1h-3zM513 442h3v1h-3zM519 442h3v1h-3zM525 442h3v1h-3zM531 442h3v1h-3zM537 442h3v1h-3zM543 442h3v1h-3zM549 442h3v1h-3zM555 442h3v1h-3zM561 442h3v1h-3zM567 442h3v1h-3zM573 442h3v1h-3zM579 442h3v1h-3zM585 442h3v1h-3zM591 442h3v1h-3zM597 442h3v1h-3zM603 442h3v1h-3zM609 442h3v1h-3zM615 442h3v1h-3zM621 442h3v1h-3zM627 442h3v1h-3zM633 442h3v1h-3zM639 442h3v1h-3zM645 442h3v1h-3zM651 442h3v1h-3zM657 442h3v1h-3zM663 442h3v1h-3zM669 442h3v1h-3zM675 442h3v1h-3zM681 442h3v1h-3zM687 442h3v1h-3zM693 442h3v1h-3zM699 442h3v1h-3zM705 442h3v1h-3zM711 442h3v1h-3zM717 442h3v1h-3zM723 442h3v1h-3zM729 442h3v1h-3zM735 442h3v1h-3zM741 442h3v1h-3zM747 442h3v1h-3zM753 442h3v1h-3zM759 442h3v1h-3zM765 442h3v1h-3zM771 442h3v1h-3zM777 442h3v1h-3zM783 442h3v1h-3zM789 442h3v1h-3zM795 442h3v1h-3zM801 442h3v1h-3zM807 442h3v1h-3zM813 442h3v1h-3zM819 442h3v1h-3zM825 442h3v1h-3zM831 442h3v1h-3zM837 442h3v1h-3zM843 442h3v1h-3zM849 442h3v1h-3zM855 442h3v1h-3zM861 442h3v1h-3zM51 475h3v1h-3zM57 475h3v1h-3zM63 475h3v1h-3zM69 475h3v1h-3zM75 475h3v1h-3zM81 475h3v1h-3zM87 475h3v1h-3zM93 475h3v1h-3zM99 475h3v1h-3zM105 475h3v1h-3zM111 475h3v1h-3zM117 475h3v1h-3zM123 475h3v1h-3zM129 475h3v1h-3zM135 475h3v1h-3zM141 475h3v1h-3zM147 475h3v1h-3zM153 475h3v1h-3zM159 475h3v1h-3zM165 475h3v1h-3zM171 475h3v1h-3zM177 475h3v1h-3zM183 475h3v1h-3zM189 475h3v1h-3zM195 475h3v1h-3zM201 475h3v1h-3zM207 475h3v1h-3zM213 475h3v1h-3zM219 475h3v1h-3zM225 475h3v1h-3zM231 475h3v1h-3zM237 475h3v1h-3zM243 475h3v1h-3zM249 475h3v1h-3zM255 475h3v1h-3zM261 475h3v1h-3zM267 475h3v1h-3zM273 475h3v1h-3zM279 475h3v1h-3zM285 475h3v1h-3zM291 475h3v1h-3zM297 475h3v1h-3zM303 475h3v1h-3zM309 475h3v1h-3zM315 475h3v1h-3zM321 475h3v1h-3zM327 475h3v1h-3zM333 475h3v1h-3zM339 475h3v1h-3zM345 475h3v1h-3zM351 475h3v1h-3zM357 475h3v1h-3zM363 475h3v1h-3zM369 475h3v1h-3zM375 475h3v1h-3zM381 475h3v1h-3zM387 475h3v1h-3zM393 475h3v1h-3zM399 475h3v1h-3zM405 475h3v1h-3zM411 475h3v1h-3zM417 475h3v1h-3zM423 475h3v1h-3zM429 475h3v1h-3zM435 475h3v1h-3zM441 475h3v1h-3zM447 475h3v1h-3zM453 475h3v1h-3zM459 475h3v1h-3zM465 475h3v1h-3zM471 475h3v1h-3zM477 475h3v1h-3zM483 475h3v1h-3zM489 475h3v1h-3zM495 475h3v1h-3zM501 475h3v1h-3zM507 475h3v1h-3zM513 475h3v1h-3zM519 475h3v1h-3zM525 475h3v1h-3zM531 475h3v1h-3zM537 475h3v1h-3zM543 475h3v1h-3zM549 475h3v1h-3zM555 475h3v1h-3zM561 475h3v1h-3zM567 475h3v1h-3zM573 475h3v1h-3zM579 475h3v1h-3zM585 475h3v1h-3zM591 475h3v1h-3zM597 475h3v1h-3zM603 475h3v1h-3zM609 475h3v1h-3zM615 475h3v1h-3zM621 475h3v1h-3zM627 475h3v1h-3zM633 475h3v1h-3zM639 475h3v1h-3zM645 475h3v1h-3zM651 475h3v1h-3zM657 475h3v1h-3zM663 475h3v1h-3zM669 475h3v1h-3zM675 475h3v1h-3zM681 475h3v1h-3zM687 475h3v1h-3zM693 475h3v1h-3zM699 475h3v1h-3zM705 475h3v1h-3zM711 475h3v1h-3zM717 475h3v1h-3zM723 475h3v1h-3zM729 475h3v1h-3zM735 475h3v1h-3zM741 475h3v1h-3zM747 475h3v1h-3zM753 475h3v1h-3zM759 475h3v1h-3zM765 475h3v1h-3zM771 475h3v1h-3zM777 475h3v1h-3zM783 475h3v1h-3zM789 475h3v1h-3zM795 475h3v1h-3zM801 475h3v1h-3zM807 475h3v1h-3zM813 475h3v1h-3zM819 475h3v1h-3zM825 475h3v1h-3zM831 475h3v1h-3zM837 475h3v1h-3zM843 475h3v1h-3zM849 475h3v1h-3zM855 475h3v1h-3zM861 475h3v1h-3zM56 48h1v3h-1zM56 54h1v3h-1zM56 60h1v3h-1zM56 66h1v3h-1zM56 72h1v3h-1zM56 78h1v3h-1zM56 84h1v3h-1zM56 90h1v3h-1zM56 96h1v3h-1zM56 102h1v3h-1zM56 108h1v3h-1zM56 114h1v3h-1zM56 120h1v3h-1zM56 126h1v3h-1zM56 132h1v3h-1zM56 138h1v3h-1zM56 144h1v3h-1zM56 150h1v3h-1zM56 156h1v3h-1zM56 162h1v3h-1zM56 168h1v3h-1zM56 174h1v3h-1zM56 180h1v3h-1zM56 186h1v3h-1zM56 192h1v3h-1zM56 198h1v3h-1zM56 204h1v3h-1zM56 210h1v3h-1zM56 216h1v3h-1zM56 222h1v3h-1zM56 228h1v3h-1zM56 234h1v3h-1zM56 240h1v3h-1zM56 246h1v3h-1zM56 252h1v3h-1zM56 258h1v3h-1zM56 264h1v3h-1zM56 270h1v3h-1zM56 276h1v3h-1zM56 282h1v3h-1zM56 288h1v3h-1zM56 294h1v3h-1zM56 300h1v3h-1zM56 306h1v3h-1zM56 312h1v3h-1zM56 318h1v3h-1zM56 324h1v3h-1zM56 330h1v3h-1zM56 336h1v3h-1zM56 342h1v3h-1zM56 348h1v3h-1zM56 354h1v3h-1zM56 360h1v3h-1zM56 366h1v3h-1zM56 372h1v3h-1zM56 378h1v3h-1zM56 384h1v3h-1zM56 390h1v3h-1zM56 396h1v3h-1zM56 402h1v3h-1zM56 408h1v3h-1zM56 414h1v3h-1zM56 420h1v3h-1zM56 426h1v3h-1zM56 432h1v3h-1zM56 438h1v3h-1zM56 444h1v3h-1zM56 450h1v3h-1zM56 456h1v3h-1zM56 462h1v3h-1zM56 468h1v3h-1zM56 474h1v3h-1zM56 480h1v3h-1zM56 486h1v3h-1zM56 492h1v3h-1zM56 498h1v3h-1zM56 504h1v3h-1zM93 48h1v3h-1zM93 54h1v3h-1zM93 60h1v3h-1zM93 66h1v3h-1zM93 72h1v3h-1zM93 78h1v3h-1zM93 84h1v3h-1zM93 90h1v3h-1zM93 96h1v3h-1zM93 102h1v3h-1zM93 108h1v3h-1zM93 114h1v3h-1zM93 120h1v3h-1zM93 126h1v3h-1zM93 132h1v3h-1zM93 138h1v3h-1zM93 144h1v3h-1zM93 150h1v3h-1zM93 156h1v3h-1zM93 162h1v3h-1zM93 168h1v3h-1zM93 174h1v3h-1zM93 180h1v3h-1zM93 186h1v3h-1zM93 192h1v3h-1zM93 198h1v3h-1zM93 204h1v3h-1zM93 210h1v3h-1zM93 216h1v3h-1zM93 222h1v3h-1zM93 228h1v3h-1zM93 234h1v3h-1zM93 240h1v3h-1zM93 246h1v3h-1zM93 252h1v3h-1zM93 258h1v3h-1zM93 264h1v3h-1zM93 270h1v3h-1zM93 276h1v3h-1zM93 282h1v3h-1zM93 288h1v3h-1zM93 294h1v3h-1zM93 300h1v3h-1zM93 306h1v3h-1zM93 312h1v3h-1zM93 318h1v3h-1zM93 324h1v3h-1zM93 330h1v3h-1zM93 336h1v3h-1zM93 342h1v3h-1zM93 348h1v3h-1zM93 354h1v3h-1zM93 360h1v3h-1zM93 366h1v3h-1zM93 372h1v3h-1zM93 378h1v3h-1zM93 384h1v3h-1zM93 390h1v3h-1zM93 396h1v3h-1zM93 402h1v3h-1zM93 408h1v3h-1zM93 414h1v3h-1zM93 420h1v3h-1zM93 426h1v3h-1zM93 432h1v3h-1zM93 438h1v3h-1zM93 444h1v3h-1zM93 450h1v3h-1zM93 456h1v3h-1zM93 462h1v3h-1zM93 468h1v3h-1zM93 474h1v3h-1zM93 480h1v3h-1zM93 486h1v3h-1zM93 492h1v3h-1zM93 498h1v3h-1zM93 504h1v3h-1zM129 48h1v3h-1zM129 54h1v3h-1zM129 60h1v3h-1zM129 66h1v3h-1zM129 72h1v3h-1zM129 78h1v3h-1zM129 84h1v3h-1zM129 90h1v3h-1zM129 96h1v3h-1zM129 102h1v3h-1zM129 108h1v3h-1zM129 114h1v3h-1zM129 120h1v3h-1zM129 126h1v3h-1zM129 132h1v3h-1zM129 138h1v3h-1zM129 144h1v3h-1zM129 150h1v3h-1zM129 156h1v3h-1zM129 162h1v3h-1zM129 168h1v3h-1zM129 174h1v3h-1zM129 180h1v3h-1zM129 186h1v3h-1zM129 192h1v3h-1zM129 198h1v3h-1zM129 204h1v3h-1zM129 210h1v3h-1zM129 216h1v3h-1zM129 222h1v3h-1zM129 228h1v3h-1zM129 234h1v3h-1zM129 240h1v3h-1zM129 246h1v3h-1zM129 252h1v3h-1zM129 258h1v3h-1zM129 264h1v3h-1zM129 270h1v3h-1zM129 276h1v3h-1zM129 282h1v3h-1zM129 288h1v3h-1zM129 294h1v3h-1zM129 300h1v3h-1zM129 306h1v3h-1zM129 312h1v3h-1zM129 318h1v3h-1zM129 324h1v3h-1zM129 330h1v3h-1zM129 336h1v3h-1zM129 342h1v3h-1zM129 348h1v3h-1zM129 354h1v3h-1zM129 360h1v3h-1zM129 366h1v3h-1zM129 372h1v3h-1zM129 378h1v3h-1zM129 384h1v3h-1zM129 390h1v3h-1zM129 396h1v3h-1zM129 402h1v3h-1zM129 408h1v3h-1zM129 414h1v3h-1zM129 420h1v3h-1zM129 426h1v3h-1zM129 432h1v3h-1zM129 438h1v3h-1zM129 444h1v3h-1zM129 450h1v3h-1zM129 456h1v3h-1zM129 462h1v3h-1zM129 468h1v3h-1zM129 474h1v3h-1zM129 480h1v3h-1zM129 486h1v3h-1zM129 492h1v3h-1zM129 498h1v3h-1zM129 504h1v3h-1zM166 48h1v3h-1zM166 54h1v3h-1zM166 60h1v3h-1zM166 66h1v3h-1zM166 72h1v3h-1zM166 78h1v3h-1zM166 84h1v3h-1zM166 90h1v3h-1zM166 96h1v3h-1zM166 102h1v3h-1zM166 108h1v3h-1zM166 114h1v3h-1zM166 120h1v3h-1zM166 126h1v3h-1zM166 132h1v3h-1zM166 138h1v3h-1zM166 144h1v3h-1zM166 150h1v3h-1zM166 156h1v3h-1zM166 162h1v3h-1zM166 168h1v3h-1zM166 174h1v3h-1zM166 180h1v3h-1zM166 186h1v3h-1zM166 192h1v3h-1zM166 198h1v3h-1zM166 204h1v3h-1zM166 210h1v3h-1zM166 216h1v3h-1zM166 222h1v3h-1zM166 228h1v3h-1zM166 234h1v3h-1zM166 240h1v3h-1zM166 246h1v3h-1zM166 252h1v3h-1zM166 258h1v3h-1zM166 264h1v3h-1zM166 270h1v3h-1zM166 276h1v3h-1zM166 282h1v3h-1zM166 288h1v3h-1zM166 294h1v3h-1zM166 300h1v3h-1zM166 306h1v3h-1zM166 312h1v3h-1zM166 318h1v3h-1zM166 324h1v3h-1zM166 330h1v3h-1zM166 336h1v3h-1zM166 342h1v3h-1zM166 348h1v3h-1zM166 354h1v3h-1zM166 360h1v3h-1zM166 366h1v3h-1zM166 372h1v3h-1zM166 378h1v3h-1zM166 384h1v3h-1zM166 390h1v3h-1zM166 396h1v3h-1zM166 402h1v3h-1zM166 408h1v3h-1zM166 414h1v3h-1zM166 420h1v3h-1zM166 426h1v3h-1zM166 432h1v3h-1zM166 438h1v3h-1zM166 444h1v3h-1zM166 450h1v3h-1zM166 456h1v3h-1zM166 462h1v3h-1zM166 468h1v3h-1zM166 474h1v3h-1zM166 480h1v3h-1zM166 486h1v3h-1zM166 492h1v3h-1zM166 498h1v3h-1zM166 504h1v3h-1zM202 48h1v3h-1zM202 54h1v3h-1zM202 60h1v3h-1zM202 66h1v3h-1zM202 72h1v3h-1zM202 78h1v3h-1zM202 84h1v3h-1zM202 90h1v3h-1zM202 96h1v3h-1zM202 102h1v3h-1zM202 108h1v3h-1zM202 114h1v3h-1zM202 120h1v3h-1zM202 126h1v3h-1zM202 132h1v3h-1zM202 138h1v3h-1zM202 144h1v3h-1zM202 150h1v3h-1zM202 156h1v3h-1zM202 162h1v3h-1zM202 168h1v3h-1zM202 174h1v3h-1zM202 180h1v3h-1zM202 186h1v3h-1zM202 192h1v3h-1zM202 198h1v3h-1zM202 204h1v3h-1zM202 210h1v3h-1zM202 216h1v3h-1zM202 222h1v3h-1zM202 228h1v3h-1zM202 234h1v3h-1zM202 240h1v3h-1zM202 246h1v3h-1zM202 252h1v3h-1zM202 258h1v3h-1zM202 264h1v3h-1zM202 270h1v3h-1zM202 276h1v3h-1zM202 282h1v3h-1zM202 288h1v3h-1zM202 294h1v3h-1zM202 300h1v3h-1zM202 306h1v3h-1zM202 312h1v3h-1zM202 318h1v3h-1zM202 324h1v3h-1zM202 330h1v3h-1zM202 336h1v3h-1zM202 342h1v3h-1zM202 348h1v3h-1zM202 354h1v3h-1zM202 360h1v3h-1zM202 366h1v3h-1zM202 372h1v3h-1zM202 378h1v3h-1zM202 384h1v3h-1zM202 390h1v3h-1zM202 396h1v3h-1zM202 402h1v3h-1zM202 408h1v3h-1zM202 414h1v3h-1zM202 420h1v3h-1zM202 426h1v3h-1zM202 432h1v3h-1zM202 438h1v3h-1zM202 444h1v3h-1zM202 450h1v3h-1zM202 456h1v3h-1zM202 462h1v3h-1zM202 468h1v3h-1zM202 474h1v3h-1zM202 480h1v3h-1zM202 486h1v3h-1zM202 492h1v3h-1zM202 498h1v3h-1zM202 504h1v3h-1zM239 48h1v3h-1zM239 54h1v3h-1zM239 60h1v3h-1zM239 66h1v3h-1zM239 72h1v3h-1zM239 78h1v3h-1zM239 84h1v3h-1zM239 90h1v3h-1zM239 96h1v3h-1zM239 102h1v3h-1zM239 108h1v3h-1zM239 114h1v3h-1zM239 120h1v3h-1zM239 126h1v3h-1zM239 132h1v3h-1zM239 138h1v3h-1zM239 144h1v3h-1zM239 150h1v3h-1zM239 156h1v3h-1zM239 162h1v3h-1zM239 168h1v3h-1zM239 174h1v3h-1zM239 180h1v3h-1zM239 186h1v3h-1zM239 192h1v3h-1zM239 198h1v3h-1zM239 204h1v3h-1zM239 210h1v3h-1zM239 216h1v3h-1zM239 222h1v3h-1zM239 228h1v3h-1zM239 234h1v3h-1zM239 240h1v3h-1zM239 246h1v3h-1zM239 252h1v3h-1zM239 258h1v3h-1zM239 264h1v3h-1zM239 270h1v3h-1zM239 276h1v3h-1zM239 282h1v3h-1zM239 288h1v3h-1zM239 294h1v3h-1zM239 300h1v3h-1zM239 306h1v3h-1zM239 312h1v3h-1zM239 318h1v3h-1zM239 324h1v3h-1zM239 330h1v3h-1zM239 336h1v3h-1zM239 342h1v3h-1zM239 348h1v3h-1zM239 354h1v3h-1zM239 360h1v3h-1zM239 366h1v3h-1zM239 372h1v3h-1zM239 378h1v3h-1zM239 384h1v3h-1zM239 390h1v3h-1zM239 396h1v3h-1zM239 402h1v3h-1zM239 408h1v3h-1zM239 414h1v3h-1zM239 420h1v3h-1zM239 426h1v3h-1zM239 432h1v3h-1zM239 438h1v3h-1zM239 444h1v3h-1zM239 450h1v3h-1zM239 456h1v3h-1zM239 462h1v3h-1zM239 468h1v3h-1zM239 474h1v3h-1zM239 480h1v3h-1zM239 486h1v3h-1zM239 492h1v3h-1zM239 498h1v3h-1zM239 504h1v3h-1zM275 48h1v3h-1zM275 54h1v3h-1zM275 60h1v3h-1zM275 66h1v3h-1zM275 72h1v3h-1zM275 78h1v3h-1zM275 84h1v3h-1zM275 90h1v3h-1zM275 96h1v3h-1zM275 102h1v3h-1zM275 108h1v3h-1zM275 114h1v3h-1zM275 120h1v3h-1zM275 126h1v3h-1zM275 132h1v3h-1zM275 138h1v3h-1zM275 144h1v3h-1zM275 150h1v3h-1zM275 156h1v3h-1zM275 162h1v3h-1zM275 168h1v3h-1zM275 174h1v3h-1zM275 180h1v3h-1zM275 186h1v3h-1zM275 192h1v3h-1zM275 198h1v3h-1zM275 204h1v3h-1zM275 210h1v3h-1zM275 216h1v3h-1zM275 222h1v3h-1zM275 228h1v3h-1zM275 234h1v3h-1zM275 240h1v3h-1zM275 246h1v3h-1zM275 252h1v3h-1zM275 258h1v3h-1zM275 264h1v3h-1zM275 270h1v3h-1zM275 276h1v3h-1zM275 282h1v3h-1zM275 288h1v3h-1zM275 294h1v3h-1zM275 300h1v3h-1zM275 306h1v3h-1zM275 312h1v3h-1zM275 318h1v3h-1zM275 324h1v3h-1zM275 330h1v3h-1zM275 336h1v3h-1zM275 342h1v3h-1zM275 348h1v3h-1zM275 354h1v3h-1zM275 360h1v3h-1zM275 366h1v3h-1zM275 372h1v3h-1zM275 378h1v3h-1zM275 384h1v3h-1zM275 390h1v3h-1zM275 396h1v3h-1zM275 402h1v3h-1zM275 408h1v3h-1zM275 414h1v3h-1zM275 420h1v3h-1zM275 426h1v3h-1zM275 432h1v3h-1zM275 438h1v3h-1zM275 444h1v3h-1zM275 450h1v3h-1zM275 456h1v3h-1zM275 462h1v3h-1zM275 468h1v3h-1zM275 474h1v3h-1zM275 480h1v3h-1zM275 486h1v3h-1zM275 492h1v3h-1zM275 498h1v3h-1zM275 504h1v3h-1zM312 48h1v3h-1zM312 54h1v3h-1zM312 60h1v3h-1zM312 66h1v3h-1zM312 72h1v3h-1zM312 78h1v3h-1zM312 84h1v3h-1zM312 90h1v3h-1zM312 96h1v3h-1zM312 102h1v3h-1zM312 108h1v3h-1zM312 114h1v3h-1zM312 120h1v3h-1zM312 126h1v3h-1zM312 132h1v3h-1zM312 138h1v3h-1zM312 144h1v3h-1zM312 150h1v3h-1zM312 156h1v3h-1zM312 162h1v3h-1zM312 168h1v3h-1zM312 174h1v3h-1zM312 180h1v3h-1zM312 186h1v3h-1zM312 192h1v3h-1zM312 198h1v3h-1zM312 204h1v3h-1zM312 210h1v3h-1zM312 216h1v3h-1zM312 222h1v3h-1zM312 228h1v3h-1zM312 234h1v3h-1zM312 240h1v3h-1zM312 246h1v3h-1zM312 252h1v3h-1zM312 258h1v3h-1zM312 264h1v3h-1zM312 270h1v3h-1zM312 276h1v3h-1zM312 282h1v3h-1zM312 288h1v3h-1zM312 294h1v3h-1zM312 300h1v3h-1zM312 306h1v3h-1zM312 312h1v3h-1zM312 318h1v3h-1zM312 324h1v3h-1zM312 330h1v3h-1zM312 336h1v3h-1zM312 342h1v3h-1zM312 348h1v3h-1zM312 354h1v3h-1zM312 360h1v3h-1zM312 366h1v3h-1zM312 372h1v3h-1zM312 378h1v3h-1zM312 384h1v3h-1zM312 390h1v3h-1zM312 396h1v3h-1zM312 402h1v3h-1zM312 408h1v3h-1zM312 414h1v3h-1zM312 420h1v3h-1zM312 426h1v3h-1zM312 432h1v3h-1zM312 438h1v3h-1zM312 444h1v3h-1zM312 450h1v3h-1zM312 456h1v3h-1zM312 462h1v3h-1zM312 468h1v3h-1zM312 474h1v3h-1zM312 480h1v3h-1zM312 486h1v3h-1zM312 492h1v3h-1zM312 498h1v3h-1zM312 504h1v3h-1zM348 48h1v3h-1zM348 54h1v3h-1zM348 60h1v3h-1zM348 66h1v3h-1zM348 72h1v3h-1zM348 78h1v3h-1zM348 84h1v3h-1zM348 90h1v3h-1zM348 96h1v3h-1zM348 102h1v3h-1zM348 108h1v3h-1zM348 114h1v3h-1zM348 120h1v3h-1zM348 126h1v3h-1zM348 132h1v3h-1zM348 138h1v3h-1zM348 144h1v3h-1zM348 150h1v3h-1zM348 156h1v3h-1zM348 162h1v3h-1zM348 168h1v3h-1zM348 174h1v3h-1zM348 180h1v3h-1zM348 186h1v3h-1zM348 192h1v3h-1zM348 198h1v3h-1zM348 204h1v3h-1zM348 210h1v3h-1zM348 216h1v3h-1zM348 222h1v3h-1zM348 228h1v3h-1zM348 234h1v3h-1zM348 240h1v3h-1zM348 246h1v3h-1zM348 252h1v3h-1zM348 258h1v3h-1zM348 264h1v3h-1zM348 270h1v3h-1zM348 276h1v3h-1zM348 282h1v3h-1zM348 288h1v3h-1zM348 294h1v3h-1zM348 300h1v3h-1zM348 306h1v3h-1zM348 312h1v3h-1zM348 318h1v3h-1zM348 324h1v3h-1zM348 330h1v3h-1zM348 336h1v3h-1zM348 342h1v3h-1zM348 348h1v3h-1zM348 354h1v3h-1zM348 360h1v3h-1zM348 366h1v3h-1zM348 372h1v3h-1zM348 378h1v3h-1zM348 384h1v3h-1zM348 390h1v3h-1zM348 396h1v3h-1zM348 402h1v3h-1zM348 408h1v3h-1zM348 414h1v3h-1zM348 420h1v3h-1zM348 426h1v3h-1zM348 432h1v3h-1zM348 438h1v3h-1zM348 444h1v3h-1zM348 450h1v3h-1zM348 456h1v3h-1zM348 462h1v3h-1zM348 468h1v3h-1zM348 474h1v3h-1zM348 480h1v3h-1zM348 486h1v3h-1zM348 492h1v3h-1zM348 498h1v3h-1zM348 504h1v3h-1zM385 48h1v3h-1zM385 54h1v3h-1zM385 60h1v3h-1zM385 66h1v3h-1zM385 72h1v3h-1zM385 78h1v3h-1zM385 84h1v3h-1zM385 90h1v3h-1zM385 96h1v3h-1zM385 102h1v3h-1zM385 108h1v3h-1zM385 114h1v3h-1zM385 120h1v3h-1zM385 126h1v3h-1zM385 132h1v3h-1zM385 138h1v3h-1zM385 144h1v3h-1zM385 150h1v3h-1zM385 156h1v3h-1zM385 162h1v3h-1zM385 168h1v3h-1zM385 174h1v3h-1zM385 180h1v3h-1zM385 186h1v3h-1zM385 192h1v3h-1zM385 198h1v3h-1zM385 204h1v3h-1zM385 210h1v3h-1zM385 216h1v3h-1zM385 222h1v3h-1zM385 228h1v3h-1zM385 234h1v3h-1zM385 240h1v3h-1zM385 246h1v3h-1zM385 252h1v3h-1zM385 258h1v3h-1zM385 264h1v3h-1zM385 270h1v3h-1zM385 276h1v3h-1zM385 282h1v3h-1zM385 288h1v3h-1zM385 294h1v3h-1zM385 300h1v3h-1zM385 306h1v3h-1zM385 312h1v3h-1zM385 318h1v3h-1zM385 324h1v3h-1zM385 330h1v3h-1zM385 336h1v3h-1zM385 342h1v3h-1zM385 348h1v3h-1zM385 354h1v3h-1zM385 360h1v3h-1zM385 366h1v3h-1zM385 372h1v3h-1zM385 378h1v3h-1zM385 384h1v3h-1zM385 390h1v3h-1zM385 396h1v3h-1zM385 402h1v3h-1zM385 408h1v3h-1zM385 414h1v3h-1zM385 420h1v3h-1zM385 426h1v3h-1zM385 432h1v3h-1zM385 438h1v3h-1zM385 444h1v3h-1zM385 450h1v3h-1zM385 456h1v3h-1zM385 462h1v3h-1zM385 468h1v3h-1zM385 474h1v3h-1zM385 480h1v3h-1zM385 486h1v3h-1zM385 492h1v3h-1zM385 498h1v3h-1zM385 504h1v3h-1zM421 48h1v3h-1zM421 54h1v3h-1zM421 60h1v3h-1zM421 66h1v3h-1zM421 72h1v3h-1zM421 78h1v3h-1zM421 84h1v3h-1zM421 90h1v3h-1zM421 96h1v3h-1zM421 102h1v3h-1zM421 108h1v3h-1zM421 114h1v3h-1zM421 120h1v3h-1zM421 126h1v3h-1zM421 132h1v3h-1zM421 138h1v3h-1zM421 144h1v3h-1zM421 150h1v3h-1zM421 156h1v3h-1zM421 162h1v3h-1zM421 168h1v3h-1zM421 174h1v3h-1zM421 180h1v3h-1zM421 186h1v3h-1zM421 192h1v3h-1zM421 198h1v3h-1zM421 204h1v3h-1zM421 210h1v3h-1zM421 216h1v3h-1zM421 222h1v3h-1zM421 228h1v3h-1zM421 234h1v3h-1zM421 240h1v3h-1zM421 246h1v3h-1zM421 252h1v3h-1zM421 258h1v3h-1zM421 264h1v3h-1zM421 270h1v3h-1zM421 276h1v3h-1zM421 282h1v3h-1zM421 288h1v3h-1zM421 294h1v3h-1zM421 300h1v3h-1zM421 306h1v3h-1zM421 312h1v3h-1zM421 318h1v3h-1zM421 324h1v3h-1zM421 330h1v3h-1zM421 336h1v3h-1zM421 342h1v3h-1zM421 348h1v3h-1zM421 354h1v3h-1zM421 360h1v3h-1zM421 366h1v3h-1zM421 372h1v3h-1zM421 378h1v3h-1zM421 384h1v3h-1zM421 390h1v3h-1zM421 396h1v3h-1zM421 402h1v3h-1zM421 408h1v3h-1zM421 414h1v3h-1zM421 420h1v3h-1zM421 426h1v3h-1zM421 432h1v3h-1zM421 438h1v3h-1zM421 444h1v3h-1zM421 450h1v3h-1zM421 456h1v3h-1zM421 462h1v3h-1zM421 468h1v3h-1zM421 474h1v3h-1zM421 480h1v3h-1zM421 486h1v3h-1zM421 492h1v3h-1zM421 498h1v3h-1zM421 504h1v3h-1zM458 48h1v3h-1zM458 54h1v3h-1zM458 60h1v3h-1zM458 66h1v3h-1zM458 72h1v3h-1zM458 78h1v3h-1zM458 84h1v3h-1zM458 90h1v3h-1zM458 96h1v3h-1zM458 102h1v3h-1zM458 108h1v3h-1zM458 114h1v3h-1zM458 120h1v3h-1zM458 126h1v3h-1zM458 132h1v3h-1zM458 138h1v3h-1zM458 144h1v3h-1zM458 150h1v3h-1zM458 156h1v3h-1zM458 162h1v3h-1zM458 168h1v3h-1zM458 174h1v3h-1zM458 180h1v3h-1zM458 186h1v3h-1zM458 192h1v3h-1zM458 198h1v3h-1zM458 204h1v3h-1zM458 210h1v3h-1zM458 216h1v3h-1zM458 222h1v3h-1zM458 228h1v3h-1zM458 234h1v3h-1zM458 240h1v3h-1zM458 246h1v3h-1zM458 252h1v3h-1zM458 258h1v3h-1zM458 264h1v3h-1zM458 270h1v3h-1zM458 276h1v3h-1zM458 282h1v3h-1zM458 288h1v3h-1zM458 294h1v3h-1zM458 300h1v3h-1zM458 306h1v3h-1zM458 312h1v3h-1zM458 318h1v3h-1zM458 324h1v3h-1zM458 330h1v3h-1zM458 336h1v3h-1zM458 342h1v3h-1zM458 348h1v3h-1zM458 354h1v3h-1zM458 360h1v3h-1zM458 366h1v3h-1zM458 372h1v3h-1zM458 378h1v3h-1zM458 384h1v3h-1zM458 390h1v3h-1zM458 396h1v3h-1zM458 402h1v3h-1zM458 408h1v3h-1zM458 414h1v3h-1zM458 420h1v3h-1zM458 426h1v3h-1zM458 432h1v3h-1zM458 438h1v3h-1zM458 444h1v3h-1zM458 450h1v3h-1zM458 456h1v3h-1zM458 462h1v3h-1zM458 468h1v3h-1zM458 474h1v3h-1zM458 480h1v3h-1zM458 486h1v3h-1zM458 492h1v3h-1zM458 498h1v3h-1zM458 504h1v3h-1zM495 48h1v3h-1zM495 54h1v3h-1zM495 60h1v3h-1zM495 66h1v3h-1zM495 72h1v3h-1zM495 78h1v3h-1zM495 84h1v3h-1zM495 90h1v3h-1zM495 96h1v3h-1zM495 102h1v3h-1zM495 108h1v3h-1zM495 114h1v3h-1zM495 120h1v3h-1zM495 126h1v3h-1zM495 132h1v3h-1zM495 138h1v3h-1zM495 144h1v3h-1zM495 150h1v3h-1zM495 156h1v3h-1zM495 162h1v3h-1zM495 168h1v3h-1zM495 174h1v3h-1zM495 180h1v3h-1zM495 186h1v3h-1zM495 192h1v3h-1zM495 198h1v3h-1zM495 204h1v3h-1zM495 210h1v3h-1zM495 216h1v3h-1zM495 222h1v3h-1zM495 228h1v3h-1zM495 234h1v3h-1zM495 240h1v3h-1zM495 246h1v3h-1zM495 252h1v3h-1zM495 258h1v3h-1zM495 264h1v3h-1zM495 270h1v3h-1zM495 276h1v3h-1zM495 282h1v3h-1zM495 288h1v3h-1zM495 294h1v3h-1zM495 300h1v3h-1zM495 306h1v3h-1zM495 312h1v3h-1zM495 318h1v3h-1zM495 324h1v3h-1zM495 330h1v3h-1zM495 336h1v3h-1zM495 342h1v3h-1zM495 348h1v3h-1zM495 354h1v3h-1zM495 360h1v3h-1zM495 366h1v3h-1zM495 372h1v3h-1zM495 378h1v3h-1zM495 384h1v3h-1zM495 390h1v3h-1zM495 396h1v3h-1zM495 402h1v3h-1zM495 408h1v3h-1zM495 414h1v3h-1zM495 420h1v3h-1zM495 426h1v3h-1zM495 432h1v3h-1zM495 438h1v3h-1zM495 444h1v3h-1zM495 450h1v3h-1zM495 456h1v3h-1zM495 462h1v3h-1zM495 468h1v3h-1zM495 474h1v3h-1zM495 480h1v3h-1zM495 486h1v3h-1zM495 492h1v3h-1zM495 498h1v3h-1zM495 504h1v3h-1zM531 48h1v3h-1zM531 54h1v3h-1zM531 60h1v3h-1zM531 66h1v3h-1zM531 72h1v3h-1zM531 78h1v3h-1zM531 84h1v3h-1zM531 90h1v3h-1zM531 96h1v3h-1zM531 102h1v3h-1zM531 108h1v3h-1zM531 114h1v3h-1zM531 120h1v3h-1zM531 126h1v3h-1zM531 132h1v3h-1zM531 138h1v3h-1zM531 144h1v3h-1zM531 150h1v3h-1zM531 156h1v3h-1zM531 162h1v3h-1zM531 168h1v3h-1zM531 174h1v3h-1zM531 180h1v3h-1zM531 186h1v3h-1zM531 192h1v3h-1zM531 198h1v3h-1zM531 204h1v3h-1zM531 210h1v3h-1zM531 216h1v3h-1zM531 222h1v3h-1zM531 228h1v3h-1zM531 234h1v3h-1zM531 240h1v3h-1zM531 246h1v3h-1zM531 252h1v3h-1zM531 258h1v3h-1zM531 264h1v3h-1zM531 270h1v3h-1zM531 276h1v3h-1zM531 282h1v3h-1zM531 288h1v3h-1zM531 294h1v3h-1zM531 300h1v3h-1zM531 306h1v3h-1zM531 312h1v3h-1zM531 318h1v3h-1zM531 324h1v3h-1zM531 330h1v3h-1zM531 336h1v3h-1zM531 342h1v3h-1zM531 348h1v3h-1zM531 354h1v3h-1zM531 360h1v3h-1zM531 366h1v3h-1zM531 372h1v3h-1zM531 378h1v3h-1zM531 384h1v3h-1zM531 390h1v3h-1zM531 396h1v3h-1zM531 402h1v3h-1zM531 408h1v3h-1zM531 414h1v3h-1zM531 420h1v3h-1zM531 426h1v3h-1zM531 432h1v3h-1zM531 438h1v3h-1zM531 444h1v3h-1zM531 450h1v3h-1zM531 456h1v3h-1zM531 462h1v3h-1zM531 468h1v3h-1zM531 474h1v3h-1zM531 480h1v3h-1zM531 486h1v3h-1zM531 492h1v3h-1zM531 498h1v3h-1zM531 504h1v3h-1zM568 48h1v3h-1zM568 54h1v3h-1zM568 60h1v3h-1zM568 66h1v3h-1zM568 72h1v3h-1zM568 78h1v3h-1zM568 84h1v3h-1zM568 90h1v3h-1zM568 96h1v3h-1zM568 102h1v3h-1zM568 108h1v3h-1zM568 114h1v3h-1zM568 120h1v3h-1zM568 126h1v3h-1zM568 132h1v3h-1zM568 138h1v3h-1zM568 144h1v3h-1zM568 150h1v3h-1zM568 156h1v3h-1zM568 162h1v3h-1zM568 168h1v3h-1zM568 174h1v3h-1zM568 180h1v3h-1zM568 186h1v3h-1zM568 192h1v3h-1zM568 198h1v3h-1zM568 204h1v3h-1zM568 210h1v3h-1zM568 216h1v3h-1zM568 222h1v3h-1zM568 228h1v3h-1zM568 234h1v3h-1zM568 240h1v3h-1zM568 246h1v3h-1zM568 252h1v3h-1zM568 258h1v3h-1zM568 264h1v3h-1zM568 270h1v3h-1zM568 276h1v3h-1zM568 282h1v3h-1zM568 288h1v3h-1zM568 294h1v3h-1zM568 300h1v3h-1zM568 306h1v3h-1zM568 312h1v3h-1zM568 318h1v3h-1zM568 324h1v3h-1zM568 330h1v3h-1zM568 336h1v3h-1zM568 342h1v3h-1zM568 348h1v3h-1zM568 354h1v3h-1zM568 360h1v3h-1zM568 366h1v3h-1zM568 372h1v3h-1zM568 378h1v3h-1zM568 384h1v3h-1zM568 390h1v3h-1zM568 396h1v3h-1zM568 402h1v3h-1zM568 408h1v3h-1zM568 414h1v3h-1zM568 420h1v3h-1zM568 426h1v3h-1zM568 432h1v3h-1zM568 438h1v3h-1zM568 444h1v3h-1zM568 450h1v3h-1zM568 456h1v3h-1zM568 462h1v3h-1zM568 468h1v3h-1zM568 474h1v3h-1zM568 480h1v3h-1zM568 486h1v3h-1zM568 492h1v3h-1zM568 498h1v3h-1zM568 504h1v3h-1zM604 48h1v3h-1zM604 54h1v3h-1zM604 60h1v3h-1zM604 66h1v3h-1zM604 72h1v3h-1zM604 78h1v3h-1zM604 84h1v3h-1zM604 90h1v3h-1zM604 96h1v3h-1zM604 102h1v3h-1zM604 108h1v3h-1zM604 114h1v3h-1zM604 120h1v3h-1zM604 126h1v3h-1zM604 132h1v3h-1zM604 138h1v3h-1zM604 144h1v3h-1zM604 150h1v3h-1zM604 156h1v3h-1zM604 162h1v3h-1zM604 168h1v3h-1zM604 174h1v3h-1zM604 180h1v3h-1zM604 186h1v3h-1zM604 192h1v3h-1zM604 198h1v3h-1zM604 204h1v3h-1zM604 210h1v3h-1zM604 216h1v3h-1zM604 222h1v3h-1zM604 228h1v3h-1zM604 234h1v3h-1zM604 240h1v3h-1zM604 246h1v3h-1zM604 252h1v3h-1zM604 258h1v3h-1zM604 264h1v3h-1zM604 270h1v3h-1zM604 276h1v3h-1zM604 282h1v3h-1zM604 288h1v3h-1zM604 294h1v3h-1zM604 300h1v3h-1zM604 306h1v3h-1zM604 312h1v3h-1zM604 318h1v3h-1zM604 324h1v3h-1zM604 330h1v3h-1zM604 336h1v3h-1zM604 342h1v3h-1zM604 348h1v3h-1zM604 354h1v3h-1zM604 360h1v3h-1zM604 366h1v3h-1zM604 372h1v3h-1zM604 378h1v3h-1zM604 384h1v3h-1zM604 390h1v3h-1zM604 396h1v3h-1zM604 402h1v3h-1zM604 408h1v3h-1zM604 414h1v3h-1zM604 420h1v3h-1zM604 426h1v3h-1zM604 432h1v3h-1zM604 438h1v3h-1zM604 444h1v3h-1zM604 450h1v3h-1zM604 456h1v3h-1zM604 462h1v3h-1zM604 468h1v3h-1zM604 474h1v3h-1zM604 480h1v3h-1zM604 486h1v3h-1zM604 492h1v3h-1zM604 498h1v3h-1zM604 504h1v3h-1zM641 48h1v3h-1zM641 54h1v3h-1zM641 60h1v3h-1zM641 66h1v3h-1zM641 72h1v3h-1zM641 78h1v3h-1zM641 84h1v3h-1zM641 90h1v3h-1zM641 96h1v3h-1zM641 102h1v3h-1zM641 108h1v3h-1zM641 114h1v3h-1zM641 120h1v3h-1zM641 126h1v3h-1zM641 132h1v3h-1zM641 138h1v3h-1zM641 144h1v3h-1zM641 150h1v3h-1zM641 156h1v3h-1zM641 162h1v3h-1zM641 168h1v3h-1zM641 174h1v3h-1zM641 180h1v3h-1zM641 186h1v3h-1zM641 192h1v3h-1zM641 198h1v3h-1zM641 204h1v3h-1zM641 210h1v3h-1zM641 216h1v3h-1zM641 222h1v3h-1zM641 228h1v3h-1zM641 234h1v3h-1zM641 240h1v3h-1zM641 246h1v3h-1zM641 252h1v3h-1zM641 258h1v3h-1zM641 264h1v3h-1zM641 270h1v3h-1zM641 276h1v3h-1zM641 282h1v3h-1zM641 288h1v3h-1zM641 294h1v3h-1zM641 300h1v3h-1zM641 306h1v3h-1zM641 312h1v3h-1zM641 318h1v3h-1zM641 324h1v3h-1zM641 330h1v3h-1zM641 336h1v3h-1zM641 342h1v3h-1zM641 348h1v3h-1zM641 354h1v3h-1zM641 360h1v3h-1zM641 366h1v3h-1zM641 372h1v3h-1zM641 378h1v3h-1zM641 384h1v3h-1zM641 390h1v3h-1zM641 396h1v3h-1zM641 402h1v3h-1zM641 408h1v3h-1zM641 414h1v3h-1zM641 420h1v3h-1zM641 426h1v3h-1zM641 432h1v3h-1zM641 438h1v3h-1zM641 444h1v3h-1zM641 450h1v3h-1zM641 456h1v3h-1zM641 462h1v3h-1zM641 468h1v3h-1zM641 474h1v3h-1zM641 480h1v3h-1zM641 486h1v3h-1zM641 492h1v3h-1zM641 498h1v3h-1zM641 504h1v3h-1zM677 48h1v3h-1zM677 54h1v3h-1zM677 60h1v3h-1zM677 66h1v3h-1zM677 72h1v3h-1zM677 78h1v3h-1zM677 84h1v3h-1zM677 90h1v3h-1zM677 96h1v3h-1zM677 102h1v3h-1zM677 108h1v3h-1zM677 114h1v3h-1zM677 120h1v3h-1zM677 126h1v3h-1zM677 132h1v3h-1zM677 138h1v3h-1zM677 144h1v3h-1zM677 150h1v3h-1zM677 156h1v3h-1zM677 162h1v3h-1zM677 168h1v3h-1zM677 174h1v3h-1zM677 180h1v3h-1zM677 186h1v3h-1zM677 192h1v3h-1zM677 198h1v3h-1zM677 204h1v3h-1zM677 210h1v3h-1zM677 216h1v3h-1zM677 222h1v3h-1zM677 228h1v3h-1zM677 234h1v3h-1zM677 240h1v3h-1zM677 246h1v3h-1zM677 252h1v3h-1zM677 258h1v3h-1zM677 264h1v3h-1zM677 270h1v3h-1zM677 276h1v3h-1zM677 282h1v3h-1zM677 288h1v3h-1zM677 294h1v3h-1zM677 300h1v3h-1zM677 306h1v3h-1zM677 312h1v3h-1zM677 318h1v3h-1zM677 324h1v3h-1zM677 330h1v3h-1zM677 336h1v3h-1zM677 342h1v3h-1zM677 348h1v3h-1zM677 354h1v3h-1zM677 360h1v3h-1zM677 366h1v3h-1zM677 372h1v3h-1zM677 378h1v3h-1zM677 384h1v3h-1zM677 390h1v3h-1zM677 396h1v3h-1zM677 402h1v3h-1zM677 408h1v3h-1zM677 414h1v3h-1zM677 420h1v3h-1zM677 426h1v3h-1zM677 432h1v3h-1zM677 438h1v3h-1zM677 444h1v3h-1zM677 450h1v3h-1zM677 456h1v3h-1zM677 462h1v3h-1zM677 468h1v3h-1zM677 474h1v3h-1zM677 480h1v3h-1zM677 486h1v3h-1zM677 492h1v3h-1zM677 498h1v3h-1zM677 504h1v3h-1zM714 48h1v3h-1zM714 54h1v3h-1zM714 60h1v3h-1zM714 66h1v3h-1zM714 72h1v3h-1zM714 78h1v3h-1zM714 84h1v3h-1zM714 90h1v3h-1zM714 96h1v3h-1zM714 102h1v3h-1zM714 108h1v3h-1zM714 114h1v3h-1zM714 120h1v3h-1zM714 126h1v3h-1zM714 132h1v3h-1zM714 138h1v3h-1zM714 144h1v3h-1zM714 150h1v3h-1zM714 156h1v3h-1zM714 162h1v3h-1zM714 168h1v3h-1zM714 174h1v3h-1zM714 180h1v3h-1zM714 186h1v3h-1zM714 192h1v3h-1zM714 198h1v3h-1zM714 204h1v3h-1zM714 210h1v3h-1zM714 216h1v3h-1zM714 222h1v3h-1zM714 228h1v3h-1zM714 234h1v3h-1zM714 240h1v3h-1zM714 246h1v3h-1zM714 252h1v3h-1zM714 258h1v3h-1zM714 264h1v3h-1zM714 270h1v3h-1zM714 276h1v3h-1zM714 282h1v3h-1zM714 288h1v3h-1zM714 294h1v3h-1zM714 300h1v3h-1zM714 306h1v3h-1zM714 312h1v3h-1zM714 318h1v3h-1zM714 324h1v3h-1zM714 330h1v3h-1zM714 336h1v3h-1zM714 342h1v3h-1zM714 348h1v3h-1zM714 354h1v3h-1zM714 360h1v3h-1zM714 366h1v3h-1zM714 372h1v3h-1zM714 378h1v3h-1zM714 384h1v3h-1zM714 390h1v3h-1zM714 396h1v3h-1zM714 402h1v3h-1zM714 408h1v3h-1zM714 414h1v3h-1zM714 420h1v3h-1zM714 426h1v3h-1zM714 432h1v3h-1zM714 438h1v3h-1zM714 444h1v3h-1zM714 450h1v3h-1zM714 456h1v3h-1zM714 462h1v3h-1zM714 468h1v3h-1zM714 474h1v3h-1zM714 480h1v3h-1zM714 486h1v3h-1zM714 492h1v3h-1zM714 498h1v3h-1zM714 504h1v3h-1zM750 48h1v3h-1zM750 54h1v3h-1zM750 60h1v3h-1zM750 66h1v3h-1zM750 72h1v3h-1zM750 78h1v3h-1zM750 84h1v3h-1zM750 90h1v3h-1zM750 96h1v3h-1zM750 102h1v3h-1zM750 108h1v3h-1zM750 114h1v3h-1zM750 120h1v3h-1zM750 126h1v3h-1zM750 132h1v3h-1zM750 138h1v3h-1zM750 144h1v3h-1zM750 150h1v3h-1zM750 156h1v3h-1zM750 162h1v3h-1zM750 168h1v3h-1zM750 174h1v3h-1zM750 180h1v3h-1zM750 186h1v3h-1zM750 192h1v3h-1zM750 198h1v3h-1zM750 204h1v3h-1zM750 210h1v3h-1zM750 216h1v3h-1zM750 222h1v3h-1zM750 228h1v3h-1zM750 234h1v3h-1zM750 240h1v3h-1zM750 246h1v3h-1zM750 252h1v3h-1zM750 258h1v3h-1zM750 264h1v3h-1zM750 270h1v3h-1zM750 276h1v3h-1zM750 282h1v3h-1zM750 288h1v3h-1zM750 294h1v3h-1zM750 300h1v3h-1zM750 306h1v3h-1zM750 312h1v3h-1zM750 318h1v3h-1zM750 324h1v3h-1zM750 330h1v3h-1zM750 336h1v3h-1zM750 342h1v3h-1zM750 348h1v3h-1zM750 354h1v3h-1zM750 360h1v3h-1zM750 366h1v3h-1zM750 372h1v3h-1zM750 378h1v3h-1zM750 384h1v3h-1zM750 390h1v3h-1zM750 396h1v3h-1zM750 402h1v3h-1zM750 408h1v3h-1zM750 414h1v3h-1zM750 420h1v3h-1zM750 426h1v3h-1zM750 432h1v3h-1zM750 438h1v3h-1zM750 444h1v3h-1zM750 450h1v3h-1zM750 456h1v3h-1zM750 462h1v3h-1zM750 468h1v3h-1zM750 474h1v3h-1zM750 480h1v3h-1zM750 486h1v3h-1zM750 492h1v3h-1zM750 498h1v3h-1zM750 504h1v3h-1zM787 48h1v3h-1zM787 54h1v3h-1zM787 60h1v3h-1zM787 66h1v3h-1zM787 72h1v3h-1zM787 78h1v3h-1zM787 84h1v3h-1zM787 90h1v3h-1zM787 96h1v3h-1zM787 102h1v3h-1zM787 108h1v3h-1zM787 114h1v3h-1zM787 120h1v3h-1zM787 126h1v3h-1zM787 132h1v3h-1zM787 138h1v3h-1zM787 144h1v3h-1zM787 150h1v3h-1zM787 156h1v3h-1zM787 162h1v3h-1zM787 168h1v3h-1zM787 174h1v3h-1zM787 180h1v3h-1zM787 186h1v3h-1zM787 192h1v3h-1zM787 198h1v3h-1zM787 204h1v3h-1zM787 210h1v3h-1zM787 216h1v3h-1zM787 222h1v3h-1zM787 228h1v3h-1zM787 234h1v3h-1zM787 240h1v3h-1zM787 246h1v3h-1zM787 252h1v3h-1zM787 258h1v3h-1zM787 264h1v3h-1zM787 270h1v3h-1zM787 276h1v3h-1zM787 282h1v3h-1zM787 288h1v3h-1zM787 294h1v3h-1zM787 300h1v3h-1zM787 306h1v3h-1zM787 312h1v3h-1zM787 318h1v3h-1zM787 324h1v3h-1zM787 330h1v3h-1zM787 336h1v3h-1zM787 342h1v3h-1zM787 348h1v3h-1zM787 354h1v3h-1zM787 360h1v3h-1zM787 366h1v3h-1zM787 372h1v3h-1zM787 378h1v3h-1zM787 384h1v3h-1zM787 390h1v3h-1zM787 396h1v3h-1zM787 402h1v3h-1zM787 408h1v3h-1zM787 414h1v3h-1zM787 420h1v3h-1zM787 426h1v3h-1zM787 432h1v3h-1zM787 438h1v3h-1zM787 444h1v3h-1zM787 450h1v3h-1zM787 456h1v3h-1zM787 462h1v3h-1zM787 468h1v3h-1zM787 474h1v3h-1zM787 480h1v3h-1zM787 486h1v3h-1zM787 492h1v3h-1zM787 498h1v3h-1zM787 504h1v3h-1zM823 48h1v3h-1zM823 54h1v3h-1zM823 60h1v3h-1zM823 66h1v3h-1zM823 72h1v3h-1zM823 78h1v3h-1zM823 84h1v3h-1zM823 90h1v3h-1zM823 96h1v3h-1zM823 102h1v3h-1zM823 108h1v3h-1zM823 114h1v3h-1zM823 120h1v3h-1zM823 126h1v3h-1zM823 132h1v3h-1zM823 138h1v3h-1zM823 144h1v3h-1zM823 150h1v3h-1zM823 156h1v3h-1zM823 162h1v3h-1zM823 168h1v3h-1zM823 174h1v3h-1zM823 180h1v3h-1zM823 186h1v3h-1zM823 192h1v3h-1zM823 198h1v3h-1zM823 204h1v3h-1zM823 210h1v3h-1zM823 216h1v3h-1zM823 222h1v3h-1zM823 228h1v3h-1zM823 234h1v3h-1zM823 240h1v3h-1zM823 246h1v3h-1zM823 252h1v3h-1zM823 258h1v3h-1zM823 264h1v3h-1zM823 270h1v3h-1zM823 276h1v3h-1zM823 282h1v3h-1zM823 288h1v3h-1zM823 294h1v3h-1zM823 300h1v3h-1zM823 306h1v3h-1zM823 312h1v3h-1zM823 318h1v3h-1zM823 324h1v3h-1zM823 330h1v3h-1zM823 336h1v3h-1zM823 342h1v3h-1zM823 348h1v3h-1zM823 354h1v3h-1zM823 360h1v3h-1zM823 366h1v3h-1zM823 372h1v3h-1zM823 378h1v3h-1zM823 384h1v3h-1zM823 390h1v3h-1zM823 396h1v3h-1zM823 402h1v3h-1zM823 408h1v3h-1zM823 414h1v3h-1zM823 420h1v3h-1zM823 426h1v3h-1zM823 432h1v3h-1zM823 438h1v3h-1zM823 444h1v3h-1zM823 450h1v3h-1zM823 456h1v3h-1zM823 462h1v3h-1zM823 468h1v3h-1zM823 474h1v3h-1zM823 480h1v3h-1zM823 486h1v3h-1zM823 492h1v3h-1zM823 498h1v3h-1zM823 504h1v3h-1zM860 48h1v3h-1zM860 54h1v3h-1zM860 60h1v3h-1zM860 66h1v3h-1zM860 72h1v3h-1zM860 78h1v3h-1zM860 84h1v3h-1zM860 90h1v3h-1zM860 96h1v3h-1zM860 102h1v3h-1zM860 108h1v3h-1zM860 114h1v3h-1zM860 120h1v3h-1zM860 126h1v3h-1zM860 132h1v3h-1zM860 138h1v3h-1zM860 144h1v3h-1zM860 150h1v3h-1zM860 156h1v3h-1zM860 162h1v3h-1zM860 168h1v3h-1zM860 174h1v3h-1zM860 180h1v3h-1zM860 186h1v3h-1zM860 192h1v3h-1zM860 198h1v3h-1zM860 204h1v3h-1zM860 210h1v3h-1zM860 216h1v3h-1zM860 222h1v3h-1zM860 228h1v3h-1zM860 234h1v3h-1zM860 240h1v3h-1zM860 246h1v3h-1zM860 252h1v3h-1zM860 258h1v3h-1zM860 264h1v3h-1zM860 270h1v3h-1zM860 276h1v3h-1zM860 282h1v3h-1zM860 288h1v3h-1zM860 294h1v3h-1zM860 300h1v3h-1zM860 306h1v3h-1zM860 312h1v3h-1zM860 318h1v3h-1zM860 324h1v3h-1zM860 330h1v3h-1zM860 336h1v3h-1zM860 342h1v3h-1zM860 348h1v3h-1zM860 354h1v3h-1zM860 360h1v3h-1zM860 366h1v3h-1zM860 372h1v3h-1zM860 378h1v3h-1zM860 384h1v3h-1zM860 390h1v3h-1zM860 396h1v3h-1zM860 402h1v3h-1zM860 408h1v3h-1zM860 414h1v3h-1zM860 420h1v3h-1zM860 426h1v3h-1zM860 432h1v3h-1zM860 438h1v3h-1zM860 444h1v3h-1zM860 450h1v3h-1zM860 456h1v3h-1zM860 462h1v3h-1zM860 468h1v3h-1zM860 474h1v3h-1zM860 480h1v3h-1zM860 486h1v3h-1zM860 492h1v3h-1zM860 498h1v3h-1zM860 504h1v3h-1z" fill="#787c7c"/>
<path d="M54 48h3v1h-3zM60 48h3v1h-3zM66 48h3v1h-3zM72 48h3v1h-3zM78 48h3v1h-3zM84 48h3v1h-3zM90 48h3v1h-3zM96 48h3v1h-3zM102 48h3v1h-3zM108 48h3v1h-3zM114 48h3v1h-3zM120 48h3v1h-3zM126 48h3v1h-3zM132 48h3v1h-3zM138 48h3v1h-3zM144 48h3v1h-3zM150 48h3v1h-3zM156 48h3v1h-3zM162 48h3v1h-3zM168 48h3v1h-3zM174 48h3v1h-3zM180 48h3v1h-3zM186 48h3v1h-3zM192 48h3v1h-3zM198 48h3v1h-3zM204 48h3v1h-3zM210 48h3v1h-3zM216 48h3v1h-3zM222 48h3v1h-3zM228 48h3v1h-3zM234 48h3v1h-3zM240 48h3v1h-3zM246 48h3v1h-3zM252 48h3v1h-3zM258 48h3v1h-3zM264 48h3v1h-3zM270 48h3v1h-3zM276 48h3v1h-3zM282 48h3v1h-3zM288 48h3v1h-3zM294 48h3v1h-3zM300 48h3v1h-3zM306 48h3v1h-3zM312 48h3v1h-3zM318 48h3v1h-3zM324 48h3v1h-3zM330 48h3v1h-3zM336 48h3v1h-3zM342 48h3v1h-3zM348 48h3v1h-3zM354 48h3v1h-3zM360 48h3v1h-3zM366 48h3v1h-3zM372 48h3v1h-3zM378 48h3v1h-3zM384 48h3v1h-3zM390 48h3v1h-3zM396 48h3v1h-3zM402 48h3v1h-3zM408 48h3v1h-3zM414 48h3v1h-3zM420 48h3v1h-3zM426 48h3v1h-3zM432 48h3v1h-3zM438 48h3v1h-3zM444 48h3v1h-3zM450 48h3v1h-3zM456 48h3v1h-3zM462 48h3v1h-3zM468 48h3v1h-3zM474 48h3v1h-3zM480 48h3v1h-3zM486 48h3v1h-3zM492 48h3v1h-3zM498 48h3v1h-3zM504 48h3v1h-3zM510 48h3v1h-3zM516 48h3v1h-3zM522 48h3v1h-3zM528 48h3v1h-3zM534 48h3v1h-3zM540 48h3v1h-3zM546 48h3v1h-3zM552 48h3v1h-3zM558 48h3v1h-3zM564 48h3v1h-3zM570 48h3v1h-3zM576 48h3v1h-3zM582 48h3v1h-3zM588 48h3v1h-3zM594 48h3v1h-3zM600 48h3v1h-3zM606 48h3v1h-3zM612 48h3v1h-3zM618 48h3v1h-3zM624 48h3v1h-3zM630 48h3v1h-3zM636 48h3v1h-3zM642 48h3v1h-3zM648 48h3v1h-3zM654 48h3v1h-3zM660 48h3v1h-3zM666 48h3v1h-3zM672 48h3v1h-3zM678 48h3v1h-3zM684 48h3v1h-3zM690 48h3v1h-3zM696 48h3v1h-3zM702 48h3v1h-3zM708 48h3v1h-3zM714 48h3v1h-3zM720 48h3v1h-3zM726 48h3v1h-3zM732 48h3v1h-3zM738 48h3v1h-3zM744 48h3v1h-3zM750 48h3v1h-3zM756 48h3v1h-3zM762 48h3v1h-3zM768 48h3v1h-3zM774 48h3v1h-3zM780 48h3v1h-3zM786 48h3v1h-3zM792 48h3v1h-3zM798 48h3v1h-3zM804 48h3v1h-3zM810 48h3v1h-3zM816 48h3v1h-3zM822 48h3v1h-3zM828 48h3v1h-3zM834 48h3v1h-3zM840 48h3v1h-3zM846 48h3v1h-3zM852 48h3v1h-3zM858 48h3v1h-3zM864 48h1v1h-1z" fill="#000"/>
<rect x="50" y="48" width="2" height="461" fill="#000"/>
<rect x="50" y="508" width="816" height="1" fill="#000"/>
<rect x="865" y="47" width="1" height="462" fill="#000"/>
<rect x="52" y="47" width="814" height="1" fill="#000"/>
<path d="M47 48h3v1h-3zM47 81h5v1h-5zM47 114h5v1h-5zM47 147h5v1h-5zM47 179h5v1h-5zM47 212h5v1h-5zM47 245h5v1h-5zM47 278h5v1h-5zM47 311h5v1h-5zM47 344h5v1h-5zM47 377h5v1h-5zM47 409h5v1h-5zM47 442h5v1h-5zM47 475h5v1h-5zM49 56h2v1h-2zM49 64h2v1h-2zM49 73h2v1h-2zM49 89h2v1h-2zM49 97h2v1h-2zM49 106h2v1h-2zM49 122h2v1h-2zM49 130h2v1h-2zM49 138h2v1h-2zM49 155h2v1h-2zM49 163h2v1h-2zM49 171h2v1h-2zM49 188h2v1h-2zM49 196h2v1h-2zM49 204h2v1h-2zM49 221h2v1h-2zM49 229h2v1h-2zM49 237h2v1h-2zM49 253h2v1h-2zM49 262h2v1h-2zM49 270h2v1h-2zM49 286h2v1h-2zM49 294h2v1h-2zM49 303h2v1h-2zM49 319h2v1h-2zM49 327h2v1h-2zM49 336h2v1h-2zM49 352h2v1h-2zM49 360h2v1h-2zM49 368h2v1h-2zM49 385h2v1h-2zM49 393h2v1h-2zM49 401h2v1h-2zM49 418h2v1h-2zM49 426h2v1h-2zM49 434h2v1h-2zM49 451h2v1h-2zM49 459h2v1h-2zM49 467h2v1h-2zM49 483h2v1h-2zM49 492h2v1h-2zM49 500h2v1h-2zM56 44h1v7h-1zM93 44h1v7h-1zM129 44h1v7h-1zM166 44h1v7h-1zM202 44h1v7h-1zM239 44h1v7h-1zM275 44h1v7h-1zM312 44h1v7h-1zM348 44h1v7h-1zM385 44h1v7h-1zM421 44h1v7h-1zM458 44h1v7h-1zM495 44h1v7h-1zM531 44h1v7h-1zM568 44h1v7h-1zM604 44h1v7h-1zM641 44h1v7h-1zM677 44h1v7h-1zM714 44h1v7h-1zM750 44h1v7h-1zM787 44h1v7h-1zM823 44h1v7h-1zM860 44h1v7h-1zM65 46h1v1h-1zM74 46h1v1h-1zM83 46h1v1h-1zM102 46h1v1h-1zM111 46h1v1h-1zM120 46h1v1h-1zM138 46h1v1h-1zM147 46h1v1h-1zM157 46h1v1h-1zM175 46h1v1h-1zM184 46h1v1h-1zM193 46h1v1h-1zM211 46h1v1h-1zM220 46h1v1h-1zM230 46h1v1h-1zM248 46h1v1h-1zM257 46h1v1h-1zM266 46h1v1h-1zM284 46h1v1h-1zM294 46h1v1h-1zM303 46h1v1h-1zM321 46h1v1h-1zM330 46h1v1h-1zM339 46h1v1h-1zM358 46h1v1h-1zM367 46h1v1h-1zM376 46h1v1h-1zM394 46h1v1h-1zM403 46h1v1h-1zM412 46h1v1h-1zM431 46h1v1h-1zM440 46h1v1h-1zM449 46h1v1h-1zM467 46h1v1h-1zM476 46h1v1h-1zM485 46h1v1h-1zM504 46h1v1h-1zM513 46h1v1h-1zM522 46h1v1h-1zM540 46h1v1h-1zM549 46h1v1h-1zM559 46h1v1h-1zM577 46h1v1h-1zM586 46h1v1h-1zM595 46h1v1h-1zM613 46h1v1h-1zM622 46h1v1h-1zM632 46h1v1h-1zM650 46h1v1h-1zM659 46h1v1h-1zM668 46h1v1h-1zM686 46h1v1h-1zM696 46h1v1h-1zM705 46h1v1h-1zM723 46h1v1h-1zM732 46h1v1h-1zM741 46h1v1h-1zM760 46h1v1h-1zM769 46h1v1h-1zM778 46h1v1h-1zM796 46h1v1h-1zM805 46h1v1h-1zM814 46h1v1h-1zM833 46h1v1h-1zM842 46h1v1h-1zM851 46h1v1h-1z" fill="#808080"/>
<g font-family="Liberation Sans" font-size="11" fill="#000" stroke="#000" stroke-width="0.12" shape-rendering="auto">
<text transform="translate(33 52) scale(0.92 1)" x="0.05 6.58" y="0">50</text>
<text transform="translate(33 85) scale(0.92 1)" x="0.05 6.58" y="0">45</text>
<text transform="translate(33 118) scale(0.92 1)" x="0.05 6.58" y="0">40</text>
<text transform="translate(33 151) scale(0.92 1)" x="0.05 6.58" y="0">35</text>
<text transform="translate(33 183) scale(0.92 1)" x="0.05 6.58" y="0">30</text>
<text transform="translate(33 216) scale(0.92 1)" x="0.05 6.58" y="0">25</text>
<text transform="translate(33 249) scale(0.92 1)" x="0.05 6.58" y="0">20</text>
<text transform="translate(33 282) scale(0.92 1)" x="0.05 6.58" y="0">15</text>
<text transform="translate(33 315) scale(0.92 1)" x="0.05 6.58" y="0">10</text>
<text transform="translate(39 348) scale(0.92 1)" x="0.05" y="0">5</text>
<text transform="translate(39 381) scale(0.92 1)" x="0.05" y="0">0</text>
<text transform="translate(35 413) scale(0.92 1)" x="0.05 4.40" y="0">-5</text>
<text transform="translate(29 446) scale(0.92 1)" x="0.05 4.40 10.92" y="0">-10</text>
<text transform="translate(29 479) scale(0.92 1)" x="0.05 4.40 10.92" y="0">-15</text>
<text transform="translate(42 39) scale(0.92 1)" x="0.05 6.58 12.23 16.36 22.88" y="0">00:00</text>
<text transform="translate(79 39) scale(0.92 1)" x="0.05 6.58 12.23 16.36 22.88" y="0">01:00</text>
<text transform="translate(115 39) scale(0.92 1)" x="0.05 6.58 12.23 16.36 22.88" y="0">02:00</text>
<text transform="translate(152 39) scale(0.92 1)" x="0.05 6.58 12.23 16.36 22.88" y="0">03:00</text>
<text transform="translate(188 39) scale(0.92 1)" x="0.05 6.58 12.23 16.36 22.88" y="0">04:00</text>
<text transform="translate(225 39) scale(0.92 1)" x="0.05 6.58 12.23 16.36 22.88" y="0">05:00</text>
<text transform="translate(261 39) scale(0.92 1)" x="0.05 6.58 12.23 16.36 22.88" y="0">06:00</text>
<text transform="translate(298 39) scale(0.92 1)" x="0.05 6.58 12.23 16.36 22.88" y="0">07:00</text>
<text transform="translate(334 39) scale(0.92 1)" x="0.05 6.58 12.23 16.36 22.88" y="0">08:00</text>
<text transform="translate(371 39) scale(0.92 1)" x="0.05 6.58 12.23 16.36 22.88" y="0">09:00</text>
<text transform="translate(407 39) scale(0.92 1)" x="0.05 6.58 12.23 16.36 22.88" y="0">10:00</text>
<text transform="translate(444 39) scale(0.92 1)" x="0.05 6.58 12.23 16.36 22.88" y="0">11:00</text>
<text transform="translate(481 39) scale(0.92 1)" x="0.05 6.58 12.23 16.36 22.88" y="0">12:00</text>
<text transform="translate(517 39) scale(0.92 1)" x="0.05 6.58 12.23 16.36 22.88" y="0">13:00</text>
<text transform="translate(554 39) scale(0.92 1)" x="0.05 6.58 12.23 16.36 22.88" y="0">14:00</text>
<text transform="translate(590 39) scale(0.92 1)" x="0.05 6.58 12.23 16.36 22.88" y="0">15:00</text>
<text transform="translate(627 39) scale(0.92 1)" x="0.05 6.58 12.23 16.36 22.88" y="0">16:00</text>
<text transform="translate(663 39) scale(0.92 1)" x="0.05 6.58 12.23 16.36 22.88" y="0">17:00</text>
<text transform="translate(700 39) scale(0.92 1)" x="0.05 6.58 12.23 16.36 22.88" y="0">18:00</text>
<text transform="translate(736 39) scale(0.92 1)" x="0.05 6.58 12.23 16.36 22.88" y="0">19:00</text>
<text transform="translate(773 39) scale(0.92 1)" x="0.05 6.58 12.23 16.36 22.88" y="0">20:00</text>
<text transform="translate(809 39) scale(0.92 1)" x="0.05 6.58 12.23 16.36 22.88" y="0">21:00</text>
<text transform="translate(846 39) scale(0.92 1)" x="0.05 6.58 12.23 16.36 22.88" y="0">22:00</text>
</g>
<polyline points="56.5,354.5 93.5,353.5 129.5,350.5 166.5,373.5 202.5,357.5 239.5,362.5 275.5,359.5 312.5,367.5 348.5,367.5 385.5,357.5 421.5,356.5 458.5,347.5 495.5,352.5 531.5,357.5 568.5,361.5 604.5,367.5 641.5,376.5 677.5,377.5 714.5,377.5 750.5,377.5 787.5,376.5 823.5,377.5 860.5,377.5" fill="none" stroke="#b01818" stroke-width="1" shape-rendering="crispEdges"/>
<rect x="52" y="350" width="9" height="9" fill="#000"/><rect x="53" y="351" width="7" height="7" fill="#dc1010"/>
<rect x="89" y="349" width="9" height="9" fill="#000"/><rect x="90" y="350" width="7" height="7" fill="#dc1010"/>
<rect x="125" y="346" width="9" height="9" fill="#000"/><rect x="126" y="347" width="7" height="7" fill="#dc1010"/>
<rect x="162" y="369" width="9" height="9" fill="#000"/><rect x="163" y="370" width="7" height="7" fill="#dc1010"/>
<rect x="198" y="353" width="9" height="9" fill="#000"/><rect x="199" y="354" width="7" height="7" fill="#dc1010"/>
<rect x="235" y="358" width="9" height="9" fill="#000"/><rect x="236" y="359" width="7" height="7" fill="#dc1010"/>
<rect x="271" y="355" width="9" height="9" fill="#000"/><rect x="272" y="356" width="7" height="7" fill="#dc1010"/>
<rect x="308" y="363" width="9" height="9" fill="#000"/><rect x="309" y="364" width="7" height="7" fill="#dc1010"/>
<rect x="344" y="363" width="9" height="9" fill="#000"/><rect x="345" y="364" width="7" height="7" fill="#dc1010"/>
<rect x="381" y="353" width="9" height="9" fill="#000"/><rect x="382" y="354" width="7" height="7" fill="#dc1010"/>
<rect x="417" y="352" width="9" height="9" fill="#000"/><rect x="418" y="353" width="7" height="7" fill="#dc1010"/>
<rect x="454" y="343" width="9" height="9" fill="#000"/><rect x="455" y="344" width="7" height="7" fill="#dc1010"/>
<rect x="491" y="348" width="9" height="9" fill="#000"/><rect x="492" y="349" width="7" height="7" fill="#dc1010"/>
<rect x="527" y="353" width="9" height="9" fill="#000"/><rect x="528" y="354" width="7" height="7" fill="#dc1010"/>
<rect x="564" y="357" width="9" height="9" fill="#000"/><rect x="565" y="358" width="7" height="7" fill="#dc1010"/>
<rect x="600" y="363" width="9" height="9" fill="#000"/><rect x="601" y="364" width="7" height="7" fill="#dc1010"/>
<rect x="637" y="372" width="9" height="9" fill="#000"/><rect x="638" y="373" width="7" height="7" fill="#dc1010"/>
<rect x="673" y="373" width="9" height="9" fill="#000"/><rect x="674" y="374" width="7" height="7" fill="#dc1010"/>
<rect x="710" y="373" width="9" height="9" fill="#000"/><rect x="711" y="374" width="7" height="7" fill="#dc1010"/>
<rect x="746" y="373" width="9" height="9" fill="#000"/><rect x="747" y="374" width="7" height="7" fill="#dc1010"/>
<rect x="783" y="372" width="9" height="9" fill="#000"/><rect x="784" y="373" width="7" height="7" fill="#dc1010"/>
<rect x="819" y="373" width="9" height="9" fill="#000"/><rect x="820" y="374" width="7" height="7" fill="#dc1010"/>
<rect x="856" y="373" width="9" height="9" fill="#000"/><rect x="857" y="374" width="7" height="7" fill="#dc1010"/>
<g font-family="Liberation Sans" font-size="11" fill="#000" stroke="#000" stroke-width="0.12">
<rect x="37" y="339" width="39" height="16" fill="#000"/><rect x="38" y="340" width="37" height="14" fill="#fafa82"/>
<text transform="translate(42 351) scale(0.92 1)" x="0.05 6.58 9.84 16.36 22.88" y="0" shape-rendering="auto">3.387</text>
<rect x="74" y="338" width="39" height="16" fill="#000"/><rect x="75" y="339" width="37" height="14" fill="#fafa82"/>
<text transform="translate(79 350) scale(0.92 1)" x="0.05 6.58 9.84 16.36 22.88" y="0" shape-rendering="auto">3.602</text>
<rect x="110" y="335" width="39" height="16" fill="#000"/><rect x="111" y="336" width="37" height="14" fill="#fafa82"/>
<text transform="translate(115 347) scale(0.92 1)" x="0.05 6.58 9.84 16.36 22.88" y="0" shape-rendering="auto">3.995</text>
<rect x="147" y="358" width="39" height="16" fill="#000"/><rect x="148" y="359" width="37" height="14" fill="#fafa82"/>
<text transform="translate(152 370) scale(0.92 1)" x="0.05 6.58 9.84 16.36 22.88" y="0" shape-rendering="auto">0.543</text>
<rect x="183" y="342" width="39" height="16" fill="#000"/><rect x="184" y="343" width="37" height="14" fill="#fafa82"/>
<text transform="translate(188 354) scale(0.92 1)" x="0.05 6.58 9.84 16.36 22.88" y="0" shape-rendering="auto">2.924</text>
<rect x="220" y="347" width="39" height="16" fill="#000"/><rect x="221" y="348" width="37" height="14" fill="#fafa82"/>
<text transform="translate(225 359) scale(0.92 1)" x="0.05 6.58 9.84 16.36 22.88" y="0" shape-rendering="auto">2.251</text>
<rect x="259" y="344" width="33" height="16" fill="#000"/><rect x="260" y="345" width="31" height="14" fill="#fafa82"/>
<text transform="translate(264 356) scale(0.92 1)" x="0.05 6.58 9.84 16.36" y="0" shape-rendering="auto">2.69</text>
<rect x="293" y="352" width="39" height="16" fill="#000"/><rect x="294" y="353" width="37" height="14" fill="#fafa82"/>
<text transform="translate(298 364) scale(0.92 1)" x="0.05 6.58 9.84 16.36 22.88" y="0" shape-rendering="auto">1.532</text>
<rect x="329" y="352" width="39" height="16" fill="#000"/><rect x="330" y="353" width="37" height="14" fill="#fafa82"/>
<text transform="translate(334 364) scale(0.92 1)" x="0.05 6.58 9.84 16.36 22.88" y="0" shape-rendering="auto">1.532</text>
<rect x="369" y="342" width="33" height="16" fill="#000"/><rect x="370" y="343" width="31" height="14" fill="#fafa82"/>
<text transform="translate(374 354) scale(0.92 1)" x="0.05 6.58 9.84 16.36" y="0" shape-rendering="auto">2.94</text>
<rect x="402" y="341" width="39" height="16" fill="#000"/><rect x="403" y="342" width="37" height="14" fill="#fafa82"/>
<text transform="translate(407 353) scale(0.92 1)" x="0.05 6.58 9.84 16.36 22.88" y="0" shape-rendering="auto">3.137</text>
<rect x="439" y="332" width="39" height="16" fill="#000"/><rect x="440" y="333" width="37" height="14" fill="#fafa82"/>
<text transform="translate(444 344) scale(0.92 1)" x="0.05 6.58 9.84 16.36 22.88" y="0" shape-rendering="auto">4.526</text>
<rect x="476" y="337" width="39" height="16" fill="#000"/><rect x="477" y="338" width="37" height="14" fill="#fafa82"/>
<text transform="translate(481 349) scale(0.92 1)" x="0.05 6.58 9.84 16.36 22.88" y="0" shape-rendering="auto">3.758</text>
<rect x="512" y="342" width="39" height="16" fill="#000"/><rect x="513" y="343" width="37" height="14" fill="#fafa82"/>
<text transform="translate(517 354) scale(0.92 1)" x="0.05 6.58 9.84 16.36 22.88" y="0" shape-rendering="auto">3.004</text>
<rect x="549" y="346" width="39" height="16" fill="#000"/><rect x="550" y="347" width="37" height="14" fill="#fafa82"/>
<text transform="translate(554 358) scale(0.92 1)" x="0.05 6.58 9.84 16.36 22.88" y="0" shape-rendering="auto">2.399</text>
<rect x="585" y="352" width="39" height="16" fill="#000"/><rect x="586" y="353" width="37" height="14" fill="#fafa82"/>
<text transform="translate(590 364) scale(0.92 1)" x="0.05 6.58 9.84 16.36 22.88" y="0" shape-rendering="auto">1.407</text>
<rect x="622" y="361" width="39" height="16" fill="#000"/><rect x="623" y="362" width="37" height="14" fill="#fafa82"/>
<text transform="translate(627 373) scale(0.92 1)" x="0.05 6.58 9.84 16.36 22.88" y="0" shape-rendering="auto">0.015</text>
<rect x="658" y="362" width="39" height="16" fill="#000"/><rect x="659" y="363" width="37" height="14" fill="#fafa82"/>
<text transform="translate(663 374) scale(0.92 1)" x="0.05 6.58 9.84 16.36 22.88" y="0" shape-rendering="auto">0.001</text>
<rect x="695" y="362" width="39" height="16" fill="#000"/><rect x="696" y="363" width="37" height="14" fill="#fafa82"/>
<text transform="translate(700 374) scale(0.92 1)" x="0.05 6.58 9.84 16.36 22.88" y="0" shape-rendering="auto">0.002</text>
<rect x="741" y="362" width="18" height="16" fill="#000"/><rect x="742" y="363" width="16" height="14" fill="#fafa82"/>
<text transform="translate(747 374) scale(0.92 1)" x="0.05" y="0" shape-rendering="auto">0</text>
<rect x="768" y="361" width="39" height="16" fill="#000"/><rect x="769" y="362" width="37" height="14" fill="#fafa82"/>
<text transform="translate(773 373) scale(0.92 1)" x="0.05 6.58 9.84 16.36 22.88" y="0" shape-rendering="auto">0.015</text>
<rect x="814" y="362" width="18" height="16" fill="#000"/><rect x="815" y="363" width="16" height="14" fill="#fafa82"/>
<text transform="translate(820 374) scale(0.92 1)" x="0.05" y="0" shape-rendering="auto">0</text>
<rect x="851" y="362" width="18" height="16" fill="#000"/><rect x="852" y="363" width="16" height="14" fill="#fafa82"/>
<text transform="translate(857 374) scale(0.92 1)" x="0.05" y="0" shape-rendering="auto">0</text>
</g>
</svg>
</body></html>
